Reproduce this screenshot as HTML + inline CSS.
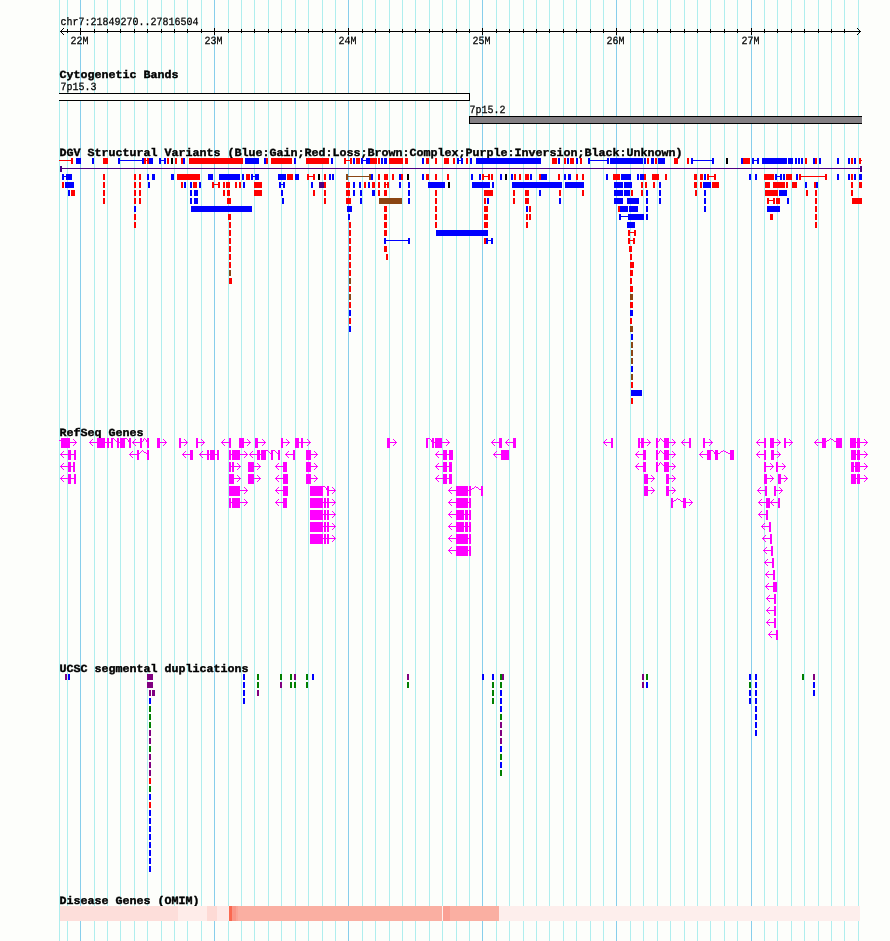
<!DOCTYPE html>
<html><head><meta charset="utf-8"><title>chr7:21849270..27816504</title>
<style>
html,body{margin:0;padding:0;background:#FDFEFB;}
body{width:890px;height:941px;overflow:hidden;}
svg{display:block;}
text{font-family:"Liberation Mono","DejaVu Sans Mono",monospace;fill:#000;white-space:pre;text-rendering:geometricPrecision;stroke:#000;stroke-width:0.2px;}
text.s{font-size:11px;stroke-width:0.25px;}
text.b{font-size:11px;font-weight:bold;stroke-width:0.4px;}
</style></head>
<body>
<svg width="890" height="941" viewBox="0 0 890 941" shape-rendering="crispEdges">
<rect x="0" y="0" width="890" height="941" fill="#FDFEFB"/>
<rect x="67" y="0" width="1" height="941" fill="#AFEEEE"/>
<rect x="80" y="0" width="1" height="941" fill="#87CEEB"/>
<rect x="94" y="0" width="1" height="941" fill="#AFEEEE"/>
<rect x="107" y="0" width="1" height="941" fill="#AFEEEE"/>
<rect x="120" y="0" width="1" height="941" fill="#AFEEEE"/>
<rect x="134" y="0" width="1" height="941" fill="#AFEEEE"/>
<rect x="147" y="0" width="1" height="941" fill="#AFEEEE"/>
<rect x="161" y="0" width="1" height="941" fill="#AFEEEE"/>
<rect x="174" y="0" width="1" height="941" fill="#AFEEEE"/>
<rect x="187" y="0" width="1" height="941" fill="#AFEEEE"/>
<rect x="201" y="0" width="1" height="941" fill="#AFEEEE"/>
<rect x="214" y="0" width="1" height="941" fill="#87CEEB"/>
<rect x="228" y="0" width="1" height="941" fill="#AFEEEE"/>
<rect x="241" y="0" width="1" height="941" fill="#AFEEEE"/>
<rect x="254" y="0" width="1" height="941" fill="#AFEEEE"/>
<rect x="268" y="0" width="1" height="941" fill="#AFEEEE"/>
<rect x="281" y="0" width="1" height="941" fill="#AFEEEE"/>
<rect x="295" y="0" width="1" height="941" fill="#AFEEEE"/>
<rect x="308" y="0" width="1" height="941" fill="#AFEEEE"/>
<rect x="322" y="0" width="1" height="941" fill="#AFEEEE"/>
<rect x="335" y="0" width="1" height="941" fill="#AFEEEE"/>
<rect x="348" y="0" width="1" height="941" fill="#87CEEB"/>
<rect x="362" y="0" width="1" height="941" fill="#AFEEEE"/>
<rect x="375" y="0" width="1" height="941" fill="#AFEEEE"/>
<rect x="389" y="0" width="1" height="941" fill="#AFEEEE"/>
<rect x="402" y="0" width="1" height="941" fill="#AFEEEE"/>
<rect x="415" y="0" width="1" height="941" fill="#AFEEEE"/>
<rect x="429" y="0" width="1" height="941" fill="#AFEEEE"/>
<rect x="442" y="0" width="1" height="941" fill="#AFEEEE"/>
<rect x="456" y="0" width="1" height="941" fill="#AFEEEE"/>
<rect x="469" y="0" width="1" height="941" fill="#AFEEEE"/>
<rect x="482" y="0" width="1" height="941" fill="#87CEEB"/>
<rect x="496" y="0" width="1" height="941" fill="#AFEEEE"/>
<rect x="509" y="0" width="1" height="941" fill="#AFEEEE"/>
<rect x="523" y="0" width="1" height="941" fill="#AFEEEE"/>
<rect x="536" y="0" width="1" height="941" fill="#AFEEEE"/>
<rect x="549" y="0" width="1" height="941" fill="#AFEEEE"/>
<rect x="563" y="0" width="1" height="941" fill="#AFEEEE"/>
<rect x="576" y="0" width="1" height="941" fill="#AFEEEE"/>
<rect x="590" y="0" width="1" height="941" fill="#AFEEEE"/>
<rect x="603" y="0" width="1" height="941" fill="#AFEEEE"/>
<rect x="616" y="0" width="1" height="941" fill="#87CEEB"/>
<rect x="630" y="0" width="1" height="941" fill="#AFEEEE"/>
<rect x="643" y="0" width="1" height="941" fill="#AFEEEE"/>
<rect x="657" y="0" width="1" height="941" fill="#AFEEEE"/>
<rect x="670" y="0" width="1" height="941" fill="#AFEEEE"/>
<rect x="684" y="0" width="1" height="941" fill="#AFEEEE"/>
<rect x="697" y="0" width="1" height="941" fill="#AFEEEE"/>
<rect x="710" y="0" width="1" height="941" fill="#AFEEEE"/>
<rect x="724" y="0" width="1" height="941" fill="#AFEEEE"/>
<rect x="737" y="0" width="1" height="941" fill="#AFEEEE"/>
<rect x="751" y="0" width="1" height="941" fill="#87CEEB"/>
<rect x="764" y="0" width="1" height="941" fill="#AFEEEE"/>
<rect x="777" y="0" width="1" height="941" fill="#AFEEEE"/>
<rect x="791" y="0" width="1" height="941" fill="#AFEEEE"/>
<rect x="804" y="0" width="1" height="941" fill="#AFEEEE"/>
<rect x="818" y="0" width="1" height="941" fill="#AFEEEE"/>
<rect x="831" y="0" width="1" height="941" fill="#AFEEEE"/>
<rect x="844" y="0" width="1" height="941" fill="#AFEEEE"/>
<rect x="858" y="0" width="1" height="941" fill="#AFEEEE"/>
<rect x="59" y="0" width="1" height="941" fill="#AFEEEE"/>
<text x="60.4" y="25" class="s" textLength="138" lengthAdjust="spacingAndGlyphs">chr7:21849270..27816504</text>
<rect x="60" y="31" width="801" height="1" fill="#000"/>
<rect x="67" y="29" width="1" height="4" fill="#000"/>
<rect x="80" y="28" width="1" height="7" fill="#000"/>
<text x="70.4" y="44" class="s" textLength="18" lengthAdjust="spacingAndGlyphs">22M</text>
<rect x="94" y="29" width="1" height="4" fill="#000"/>
<rect x="107" y="29" width="1" height="4" fill="#000"/>
<rect x="120" y="29" width="1" height="4" fill="#000"/>
<rect x="134" y="29" width="1" height="4" fill="#000"/>
<rect x="147" y="29" width="1" height="4" fill="#000"/>
<rect x="161" y="29" width="1" height="4" fill="#000"/>
<rect x="174" y="29" width="1" height="4" fill="#000"/>
<rect x="187" y="29" width="1" height="4" fill="#000"/>
<rect x="201" y="29" width="1" height="4" fill="#000"/>
<rect x="214" y="28" width="1" height="7" fill="#000"/>
<text x="204.4" y="44" class="s" textLength="18" lengthAdjust="spacingAndGlyphs">23M</text>
<rect x="228" y="29" width="1" height="4" fill="#000"/>
<rect x="241" y="29" width="1" height="4" fill="#000"/>
<rect x="254" y="29" width="1" height="4" fill="#000"/>
<rect x="268" y="29" width="1" height="4" fill="#000"/>
<rect x="281" y="29" width="1" height="4" fill="#000"/>
<rect x="295" y="29" width="1" height="4" fill="#000"/>
<rect x="308" y="29" width="1" height="4" fill="#000"/>
<rect x="322" y="29" width="1" height="4" fill="#000"/>
<rect x="335" y="29" width="1" height="4" fill="#000"/>
<rect x="348" y="28" width="1" height="7" fill="#000"/>
<text x="338.4" y="44" class="s" textLength="18" lengthAdjust="spacingAndGlyphs">24M</text>
<rect x="362" y="29" width="1" height="4" fill="#000"/>
<rect x="375" y="29" width="1" height="4" fill="#000"/>
<rect x="389" y="29" width="1" height="4" fill="#000"/>
<rect x="402" y="29" width="1" height="4" fill="#000"/>
<rect x="415" y="29" width="1" height="4" fill="#000"/>
<rect x="429" y="29" width="1" height="4" fill="#000"/>
<rect x="442" y="29" width="1" height="4" fill="#000"/>
<rect x="456" y="29" width="1" height="4" fill="#000"/>
<rect x="469" y="29" width="1" height="4" fill="#000"/>
<rect x="482" y="28" width="1" height="7" fill="#000"/>
<text x="472.4" y="44" class="s" textLength="18" lengthAdjust="spacingAndGlyphs">25M</text>
<rect x="496" y="29" width="1" height="4" fill="#000"/>
<rect x="509" y="29" width="1" height="4" fill="#000"/>
<rect x="523" y="29" width="1" height="4" fill="#000"/>
<rect x="536" y="29" width="1" height="4" fill="#000"/>
<rect x="549" y="29" width="1" height="4" fill="#000"/>
<rect x="563" y="29" width="1" height="4" fill="#000"/>
<rect x="576" y="29" width="1" height="4" fill="#000"/>
<rect x="590" y="29" width="1" height="4" fill="#000"/>
<rect x="603" y="29" width="1" height="4" fill="#000"/>
<rect x="616" y="28" width="1" height="7" fill="#000"/>
<text x="606.4" y="44" class="s" textLength="18" lengthAdjust="spacingAndGlyphs">26M</text>
<rect x="630" y="29" width="1" height="4" fill="#000"/>
<rect x="643" y="29" width="1" height="4" fill="#000"/>
<rect x="657" y="29" width="1" height="4" fill="#000"/>
<rect x="670" y="29" width="1" height="4" fill="#000"/>
<rect x="684" y="29" width="1" height="4" fill="#000"/>
<rect x="697" y="29" width="1" height="4" fill="#000"/>
<rect x="710" y="29" width="1" height="4" fill="#000"/>
<rect x="724" y="29" width="1" height="4" fill="#000"/>
<rect x="737" y="29" width="1" height="4" fill="#000"/>
<rect x="751" y="28" width="1" height="7" fill="#000"/>
<text x="741.4" y="44" class="s" textLength="18" lengthAdjust="spacingAndGlyphs">27M</text>
<rect x="764" y="29" width="1" height="4" fill="#000"/>
<rect x="777" y="29" width="1" height="4" fill="#000"/>
<rect x="791" y="29" width="1" height="4" fill="#000"/>
<rect x="804" y="29" width="1" height="4" fill="#000"/>
<rect x="818" y="29" width="1" height="4" fill="#000"/>
<rect x="831" y="29" width="1" height="4" fill="#000"/>
<rect x="844" y="29" width="1" height="4" fill="#000"/>
<rect x="61" y="30" width="1" height="1" fill="#000"/>
<rect x="61" y="32" width="1" height="1" fill="#000"/>
<rect x="859" y="30" width="1" height="1" fill="#000"/>
<rect x="859" y="32" width="1" height="1" fill="#000"/>
<rect x="62" y="29" width="1" height="1" fill="#000"/>
<rect x="62" y="33" width="1" height="1" fill="#000"/>
<rect x="858" y="29" width="1" height="1" fill="#000"/>
<rect x="858" y="33" width="1" height="1" fill="#000"/>
<rect x="63" y="28" width="1" height="1" fill="#000"/>
<rect x="63" y="34" width="1" height="1" fill="#000"/>
<rect x="857" y="28" width="1" height="1" fill="#000"/>
<rect x="857" y="34" width="1" height="1" fill="#000"/>
<text x="59.5" y="77.7" class="b" textLength="119" lengthAdjust="spacingAndGlyphs">Cytogenetic Bands</text>
<text x="60.4" y="90" class="s" textLength="36" lengthAdjust="spacingAndGlyphs">7p15.3</text>
<rect x="59" y="93" width="411" height="8" fill="#000"/>
<rect x="59" y="94" width="410" height="6" fill="#FDFEFB"/>
<text x="469.4" y="113" class="s" textLength="36" lengthAdjust="spacingAndGlyphs">7p15.2</text>
<rect x="469" y="116" width="393" height="8" fill="#000"/>
<rect x="470" y="117" width="392" height="6" fill="#848084"/>
<text x="59.5" y="155.7" class="b" textLength="623" lengthAdjust="spacingAndGlyphs">DGV Structural Variants (Blue:Gain;Red:Loss;Brown:Complex;Purple:Inversion;Black:Unknown)</text>
<rect x="59" y="160" width="12" height="1" fill="#FF0000"/>
<rect x="71" y="158" width="2" height="6" fill="#FF0000"/>
<rect x="76" y="158" width="5" height="6" fill="#0000FF"/>
<rect x="92" y="158" width="2" height="6" fill="#0000FF"/>
<rect x="103" y="158" width="5" height="6" fill="#FF0000"/>
<rect x="118" y="158" width="2" height="6" fill="#0000FF"/>
<rect x="120" y="160" width="22" height="1" fill="#0000FF"/>
<rect x="142" y="158" width="2" height="6" fill="#0000FF"/>
<rect x="144" y="158" width="2" height="6" fill="#FF0000"/>
<rect x="146" y="160" width="1" height="1" fill="#FF0000"/>
<rect x="147" y="158" width="2" height="6" fill="#FF0000"/>
<rect x="149" y="158" width="4" height="6" fill="#0000FF"/>
<rect x="159" y="158" width="2" height="6" fill="#0000FF"/>
<rect x="161" y="160" width="3" height="1" fill="#0000FF"/>
<rect x="164" y="158" width="2" height="6" fill="#0000FF"/>
<rect x="167" y="158" width="2" height="6" fill="#FF0000"/>
<rect x="171" y="158" width="2" height="6" fill="#000000"/>
<rect x="175" y="158" width="2" height="6" fill="#FF0000"/>
<rect x="181" y="158" width="2" height="6" fill="#FF0000"/>
<rect x="183" y="158" width="2" height="6" fill="#0000FF"/>
<rect x="189" y="158" width="54" height="6" fill="#FF0000"/>
<rect x="245" y="158" width="14" height="6" fill="#0000FF"/>
<rect x="264" y="158" width="2" height="6" fill="#0000FF"/>
<rect x="266" y="158" width="2" height="6" fill="#FF0000"/>
<rect x="271" y="158" width="21" height="6" fill="#FF0000"/>
<rect x="294" y="158" width="2" height="6" fill="#0000FF"/>
<rect x="306" y="158" width="23" height="6" fill="#FF0000"/>
<rect x="331" y="158" width="2" height="6" fill="#0000FF"/>
<rect x="344" y="158" width="2" height="6" fill="#FF0000"/>
<rect x="346" y="160" width="4" height="1" fill="#FF0000"/>
<rect x="350" y="158" width="2" height="6" fill="#FF0000"/>
<rect x="353" y="158" width="2" height="6" fill="#0000FF"/>
<rect x="356" y="158" width="4" height="6" fill="#FF0000"/>
<rect x="361" y="158" width="2" height="6" fill="#0000FF"/>
<rect x="363" y="160" width="3" height="1" fill="#0000FF"/>
<rect x="366" y="158" width="4" height="6" fill="#0000FF"/>
<rect x="370" y="158" width="7" height="6" fill="#FF0000"/>
<rect x="378" y="158" width="2" height="6" fill="#FF0000"/>
<rect x="381" y="158" width="2" height="6" fill="#0000FF"/>
<rect x="384" y="158" width="3" height="6" fill="#0000FF"/>
<rect x="389" y="158" width="14" height="6" fill="#FF0000"/>
<rect x="405" y="158" width="3" height="6" fill="#FF0000"/>
<rect x="422" y="158" width="2" height="6" fill="#0000FF"/>
<rect x="426" y="158" width="3" height="6" fill="#FF0000"/>
<rect x="435" y="158" width="2" height="6" fill="#FF0000"/>
<rect x="444" y="158" width="5" height="6" fill="#FF0000"/>
<rect x="453" y="158" width="2" height="6" fill="#FF0000"/>
<rect x="457" y="158" width="2" height="6" fill="#0000FF"/>
<rect x="459" y="160" width="2" height="1" fill="#0000FF"/>
<rect x="461" y="158" width="2" height="6" fill="#0000FF"/>
<rect x="466" y="158" width="2" height="6" fill="#FF0000"/>
<rect x="470" y="158" width="2" height="6" fill="#0000FF"/>
<rect x="476" y="158" width="65" height="6" fill="#0000FF"/>
<rect x="552" y="158" width="5" height="6" fill="#FF0000"/>
<rect x="558" y="158" width="2" height="6" fill="#0000FF"/>
<rect x="564" y="158" width="2" height="6" fill="#FF0000"/>
<rect x="567" y="158" width="2" height="6" fill="#0000FF"/>
<rect x="570" y="158" width="4" height="6" fill="#FF0000"/>
<rect x="576" y="158" width="2" height="6" fill="#0000FF"/>
<rect x="580" y="158" width="2" height="6" fill="#FF0000"/>
<rect x="588" y="158" width="2" height="6" fill="#0000FF"/>
<rect x="590" y="160" width="17" height="1" fill="#0000FF"/>
<rect x="607" y="158" width="2" height="6" fill="#0000FF"/>
<rect x="610" y="158" width="33" height="6" fill="#0000FF"/>
<rect x="644" y="158" width="2" height="6" fill="#0000FF"/>
<rect x="647" y="158" width="2" height="6" fill="#FF0000"/>
<rect x="651" y="158" width="3" height="6" fill="#0000FF"/>
<rect x="655" y="158" width="2" height="6" fill="#FF0000"/>
<rect x="658" y="158" width="7" height="6" fill="#0000FF"/>
<rect x="674" y="158" width="4" height="6" fill="#FF0000"/>
<rect x="687" y="158" width="2" height="6" fill="#FF0000"/>
<rect x="691" y="158" width="2" height="6" fill="#0000FF"/>
<rect x="693" y="160" width="19" height="1" fill="#0000FF"/>
<rect x="712" y="158" width="2" height="6" fill="#0000FF"/>
<rect x="726" y="158" width="2" height="6" fill="#000000"/>
<rect x="741" y="158" width="2" height="6" fill="#0000FF"/>
<rect x="743" y="158" width="7" height="6" fill="#FF0000"/>
<rect x="752" y="158" width="2" height="6" fill="#0000FF"/>
<rect x="754" y="160" width="3" height="1" fill="#0000FF"/>
<rect x="757" y="158" width="2" height="6" fill="#0000FF"/>
<rect x="762" y="158" width="25" height="6" fill="#0000FF"/>
<rect x="788" y="158" width="5" height="6" fill="#0000FF"/>
<rect x="795" y="158" width="2" height="6" fill="#0000FF"/>
<rect x="798" y="158" width="2" height="6" fill="#0000FF"/>
<rect x="801" y="158" width="2" height="6" fill="#0000FF"/>
<rect x="805" y="158" width="2" height="6" fill="#FF0000"/>
<rect x="813" y="158" width="2" height="6" fill="#0000FF"/>
<rect x="815" y="158" width="2" height="6" fill="#FF0000"/>
<rect x="819" y="158" width="2" height="6" fill="#0000FF"/>
<rect x="837" y="158" width="2" height="6" fill="#0000FF"/>
<rect x="848" y="158" width="2" height="6" fill="#0000FF"/>
<rect x="851" y="158" width="2" height="6" fill="#FF0000"/>
<rect x="854" y="158" width="2" height="6" fill="#0000FF"/>
<rect x="859" y="158" width="2" height="6" fill="#FF0000"/>
<rect x="861" y="160" width="1" height="1" fill="#FF0000"/>
<rect x="60" y="166" width="2" height="6" fill="#4B0082"/>
<rect x="60" y="168" width="802" height="1" fill="#4B0082"/>
<rect x="860" y="166" width="2" height="6" fill="#4B0082"/>
<rect x="62" y="174" width="2" height="6" fill="#0000FF"/>
<rect x="64" y="176" width="2" height="1" fill="#0000FF"/>
<rect x="66" y="174" width="6" height="6" fill="#0000FF"/>
<rect x="103" y="174" width="2" height="6" fill="#FF0000"/>
<rect x="134" y="174" width="2" height="6" fill="#FF0000"/>
<rect x="139" y="174" width="2" height="6" fill="#FF0000"/>
<rect x="147" y="174" width="2" height="6" fill="#0000FF"/>
<rect x="152" y="174" width="3" height="6" fill="#0000FF"/>
<rect x="171" y="174" width="3" height="6" fill="#0000FF"/>
<rect x="177" y="174" width="23" height="6" fill="#FF0000"/>
<rect x="208" y="174" width="5" height="6" fill="#0000FF"/>
<rect x="219" y="174" width="21" height="6" fill="#0000FF"/>
<rect x="242" y="174" width="2" height="6" fill="#0000FF"/>
<rect x="246" y="174" width="4" height="6" fill="#FF0000"/>
<rect x="251" y="174" width="2" height="6" fill="#0000FF"/>
<rect x="253" y="176" width="2" height="1" fill="#0000FF"/>
<rect x="255" y="174" width="4" height="6" fill="#0000FF"/>
<rect x="278" y="174" width="8" height="6" fill="#0000FF"/>
<rect x="287" y="174" width="6" height="6" fill="#FF0000"/>
<rect x="295" y="174" width="4" height="6" fill="#0000FF"/>
<rect x="307" y="174" width="2" height="6" fill="#FF0000"/>
<rect x="309" y="176" width="4" height="1" fill="#FF0000"/>
<rect x="313" y="174" width="2" height="6" fill="#FF0000"/>
<rect x="318" y="174" width="2" height="6" fill="#000000"/>
<rect x="324" y="174" width="2" height="6" fill="#FF0000"/>
<rect x="329" y="174" width="2" height="6" fill="#0000FF"/>
<rect x="332" y="174" width="2" height="6" fill="#0000FF"/>
<rect x="346" y="174" width="2" height="6" fill="#8B4513"/>
<rect x="348" y="176" width="21" height="1" fill="#8B4513"/>
<rect x="369" y="174" width="2" height="6" fill="#8B4513"/>
<rect x="371" y="174" width="2" height="6" fill="#0000FF"/>
<rect x="378" y="174" width="2" height="6" fill="#FF0000"/>
<rect x="384" y="174" width="4" height="6" fill="#FF0000"/>
<rect x="392" y="174" width="2" height="6" fill="#FF0000"/>
<rect x="399" y="174" width="2" height="6" fill="#0000FF"/>
<rect x="401" y="174" width="2" height="6" fill="#FF0000"/>
<rect x="407" y="174" width="2" height="6" fill="#000000"/>
<rect x="422" y="174" width="2" height="6" fill="#0000FF"/>
<rect x="426" y="174" width="3" height="6" fill="#FF0000"/>
<rect x="435" y="174" width="2" height="6" fill="#FF0000"/>
<rect x="447" y="174" width="2" height="6" fill="#FF0000"/>
<rect x="471" y="174" width="2" height="6" fill="#0000FF"/>
<rect x="479" y="174" width="2" height="6" fill="#0000FF"/>
<rect x="482" y="174" width="2" height="6" fill="#FF0000"/>
<rect x="484" y="176" width="4" height="1" fill="#FF0000"/>
<rect x="488" y="174" width="2" height="6" fill="#FF0000"/>
<rect x="491" y="174" width="2" height="6" fill="#FF0000"/>
<rect x="500" y="174" width="2" height="6" fill="#0000FF"/>
<rect x="505" y="174" width="2" height="6" fill="#000000"/>
<rect x="511" y="174" width="2" height="6" fill="#0000FF"/>
<rect x="514" y="174" width="2" height="6" fill="#FF0000"/>
<rect x="519" y="174" width="2" height="6" fill="#FF0000"/>
<rect x="525" y="174" width="4" height="6" fill="#FF0000"/>
<rect x="530" y="174" width="2" height="6" fill="#0000FF"/>
<rect x="539" y="174" width="2" height="6" fill="#FF0000"/>
<rect x="541" y="174" width="6" height="6" fill="#0000FF"/>
<rect x="558" y="174" width="2" height="6" fill="#FF0000"/>
<rect x="564" y="174" width="2" height="6" fill="#0000FF"/>
<rect x="568" y="174" width="3" height="6" fill="#0000FF"/>
<rect x="576" y="174" width="2" height="6" fill="#FF0000"/>
<rect x="582" y="174" width="2" height="6" fill="#FF0000"/>
<rect x="606" y="174" width="2" height="6" fill="#0000FF"/>
<rect x="613" y="174" width="7" height="6" fill="#FF0000"/>
<rect x="621" y="174" width="10" height="6" fill="#0000FF"/>
<rect x="637" y="174" width="2" height="6" fill="#0000FF"/>
<rect x="640" y="174" width="4" height="6" fill="#0000FF"/>
<rect x="644" y="174" width="2" height="6" fill="#FF0000"/>
<rect x="652" y="174" width="7" height="6" fill="#FF0000"/>
<rect x="665" y="174" width="2" height="6" fill="#FF0000"/>
<rect x="694" y="174" width="3" height="6" fill="#FF0000"/>
<rect x="700" y="174" width="3" height="6" fill="#FF0000"/>
<rect x="704" y="174" width="2" height="6" fill="#0000FF"/>
<rect x="707" y="174" width="2" height="6" fill="#FF0000"/>
<rect x="709" y="176" width="5" height="1" fill="#FF0000"/>
<rect x="714" y="174" width="2" height="6" fill="#FF0000"/>
<rect x="749" y="174" width="2" height="6" fill="#0000FF"/>
<rect x="755" y="174" width="2" height="6" fill="#0000FF"/>
<rect x="764" y="174" width="10" height="6" fill="#FF0000"/>
<rect x="775" y="174" width="2" height="6" fill="#0000FF"/>
<rect x="777" y="176" width="3" height="1" fill="#0000FF"/>
<rect x="780" y="174" width="2" height="6" fill="#0000FF"/>
<rect x="783" y="174" width="2" height="6" fill="#0000FF"/>
<rect x="786" y="174" width="6" height="6" fill="#FF0000"/>
<rect x="796" y="174" width="2" height="6" fill="#0000FF"/>
<rect x="799" y="174" width="2" height="6" fill="#FF0000"/>
<rect x="801" y="176" width="24" height="1" fill="#FF0000"/>
<rect x="825" y="174" width="2" height="6" fill="#FF0000"/>
<rect x="837" y="174" width="2" height="6" fill="#0000FF"/>
<rect x="848" y="174" width="2" height="6" fill="#0000FF"/>
<rect x="851" y="174" width="2" height="6" fill="#FF0000"/>
<rect x="854" y="174" width="2" height="6" fill="#0000FF"/>
<rect x="859" y="174" width="3" height="6" fill="#0000FF"/>
<rect x="62" y="182" width="2" height="6" fill="#FF0000"/>
<rect x="65" y="182" width="9" height="6" fill="#0000FF"/>
<rect x="103" y="182" width="2" height="6" fill="#FF0000"/>
<rect x="134" y="182" width="2" height="6" fill="#FF0000"/>
<rect x="139" y="182" width="2" height="6" fill="#FF0000"/>
<rect x="148" y="182" width="2" height="6" fill="#0000FF"/>
<rect x="181" y="182" width="2" height="6" fill="#FF0000"/>
<rect x="184" y="182" width="2" height="6" fill="#0000FF"/>
<rect x="190" y="182" width="2" height="6" fill="#0000FF"/>
<rect x="193" y="182" width="4" height="6" fill="#FF0000"/>
<rect x="199" y="182" width="2" height="6" fill="#0000FF"/>
<rect x="212" y="182" width="2" height="6" fill="#FF0000"/>
<rect x="214" y="184" width="4" height="1" fill="#FF0000"/>
<rect x="218" y="182" width="2" height="6" fill="#FF0000"/>
<rect x="223" y="182" width="2" height="6" fill="#FF0000"/>
<rect x="226" y="182" width="4" height="6" fill="#FF0000"/>
<rect x="235" y="182" width="2" height="6" fill="#FF0000"/>
<rect x="239" y="182" width="2" height="6" fill="#FF0000"/>
<rect x="243" y="182" width="2" height="6" fill="#0000FF"/>
<rect x="254" y="182" width="8" height="6" fill="#FF0000"/>
<rect x="279" y="182" width="2" height="6" fill="#0000FF"/>
<rect x="281" y="184" width="2" height="1" fill="#0000FF"/>
<rect x="283" y="182" width="2" height="6" fill="#0000FF"/>
<rect x="311" y="182" width="2" height="6" fill="#0000FF"/>
<rect x="319" y="182" width="5" height="6" fill="#4B0082"/>
<rect x="324" y="182" width="2" height="6" fill="#FF0000"/>
<rect x="346" y="182" width="4" height="6" fill="#FF0000"/>
<rect x="353" y="182" width="2" height="6" fill="#0000FF"/>
<rect x="359" y="182" width="2" height="6" fill="#0000FF"/>
<rect x="364" y="182" width="2" height="6" fill="#FF0000"/>
<rect x="368" y="182" width="2" height="6" fill="#0000FF"/>
<rect x="372" y="182" width="3" height="6" fill="#FF0000"/>
<rect x="378" y="182" width="2" height="6" fill="#FF0000"/>
<rect x="384" y="182" width="2" height="6" fill="#FF0000"/>
<rect x="386" y="184" width="1" height="1" fill="#FF0000"/>
<rect x="387" y="182" width="2" height="6" fill="#FF0000"/>
<rect x="399" y="182" width="2" height="6" fill="#0000FF"/>
<rect x="408" y="182" width="2" height="6" fill="#0000FF"/>
<rect x="428" y="182" width="17" height="6" fill="#0000FF"/>
<rect x="448" y="182" width="2" height="6" fill="#000000"/>
<rect x="472" y="182" width="18" height="6" fill="#0000FF"/>
<rect x="492" y="182" width="2" height="6" fill="#0000FF"/>
<rect x="512" y="182" width="50" height="6" fill="#0000FF"/>
<rect x="565" y="182" width="19" height="6" fill="#0000FF"/>
<rect x="614" y="182" width="9" height="6" fill="#0000FF"/>
<rect x="624" y="182" width="8" height="6" fill="#0000FF"/>
<rect x="641" y="182" width="2" height="6" fill="#FF0000"/>
<rect x="645" y="182" width="2" height="6" fill="#FF0000"/>
<rect x="653" y="182" width="2" height="6" fill="#FF0000"/>
<rect x="659" y="182" width="2" height="6" fill="#0000FF"/>
<rect x="694" y="182" width="3" height="6" fill="#FF0000"/>
<rect x="700" y="182" width="2" height="6" fill="#FF0000"/>
<rect x="703" y="182" width="8" height="6" fill="#0000FF"/>
<rect x="712" y="182" width="7" height="6" fill="#FF0000"/>
<rect x="765" y="182" width="5" height="6" fill="#FF0000"/>
<rect x="773" y="182" width="12" height="6" fill="#FF0000"/>
<rect x="786" y="182" width="2" height="6" fill="#FF0000"/>
<rect x="792" y="182" width="5" height="6" fill="#FF0000"/>
<rect x="805" y="182" width="2" height="6" fill="#0000FF"/>
<rect x="814" y="182" width="2" height="6" fill="#FF0000"/>
<rect x="816" y="182" width="2" height="6" fill="#0000FF"/>
<rect x="851" y="182" width="2" height="6" fill="#FF0000"/>
<rect x="859" y="182" width="3" height="6" fill="#FF0000"/>
<rect x="68" y="190" width="2" height="6" fill="#0000FF"/>
<rect x="71" y="190" width="4" height="6" fill="#FF0000"/>
<rect x="103" y="190" width="2" height="6" fill="#FF0000"/>
<rect x="134" y="190" width="2" height="6" fill="#FF0000"/>
<rect x="139" y="190" width="2" height="6" fill="#FF0000"/>
<rect x="190" y="190" width="2" height="6" fill="#0000FF"/>
<rect x="194" y="190" width="4" height="6" fill="#0000FF"/>
<rect x="223" y="190" width="2" height="6" fill="#FF0000"/>
<rect x="227" y="190" width="3" height="6" fill="#FF0000"/>
<rect x="254" y="190" width="8" height="6" fill="#FF0000"/>
<rect x="281" y="190" width="2" height="6" fill="#0000FF"/>
<rect x="313" y="190" width="2" height="6" fill="#FF0000"/>
<rect x="324" y="190" width="2" height="6" fill="#FF0000"/>
<rect x="346" y="190" width="4" height="6" fill="#FF0000"/>
<rect x="353" y="190" width="2" height="6" fill="#0000FF"/>
<rect x="360" y="190" width="2" height="6" fill="#0000FF"/>
<rect x="372" y="190" width="3" height="6" fill="#0000FF"/>
<rect x="378" y="190" width="2" height="6" fill="#FF0000"/>
<rect x="384" y="190" width="3" height="6" fill="#FF0000"/>
<rect x="408" y="190" width="2" height="6" fill="#0000FF"/>
<rect x="435" y="190" width="2" height="6" fill="#FF0000"/>
<rect x="484" y="190" width="9" height="6" fill="#FF0000"/>
<rect x="513" y="190" width="2" height="6" fill="#FF0000"/>
<rect x="525" y="190" width="4" height="6" fill="#FF0000"/>
<rect x="539" y="190" width="2" height="6" fill="#0000FF"/>
<rect x="559" y="190" width="2" height="6" fill="#FF0000"/>
<rect x="582" y="190" width="2" height="6" fill="#FF0000"/>
<rect x="614" y="190" width="9" height="6" fill="#0000FF"/>
<rect x="624" y="190" width="6" height="6" fill="#0000FF"/>
<rect x="631" y="190" width="2" height="6" fill="#FF0000"/>
<rect x="641" y="190" width="2" height="6" fill="#FF0000"/>
<rect x="646" y="190" width="2" height="6" fill="#0000FF"/>
<rect x="659" y="190" width="2" height="6" fill="#0000FF"/>
<rect x="695" y="190" width="2" height="6" fill="#FF0000"/>
<rect x="704" y="190" width="2" height="6" fill="#0000FF"/>
<rect x="765" y="190" width="13" height="6" fill="#FF0000"/>
<rect x="779" y="190" width="8" height="6" fill="#0000FF"/>
<rect x="806" y="190" width="2" height="6" fill="#FF0000"/>
<rect x="815" y="190" width="2" height="6" fill="#FF0000"/>
<rect x="851" y="190" width="2" height="6" fill="#FF0000"/>
<rect x="103" y="198" width="2" height="6" fill="#FF0000"/>
<rect x="134" y="198" width="2" height="6" fill="#FF0000"/>
<rect x="139" y="198" width="2" height="6" fill="#FF0000"/>
<rect x="190" y="198" width="2" height="6" fill="#0000FF"/>
<rect x="194" y="198" width="4" height="6" fill="#0000FF"/>
<rect x="227" y="198" width="4" height="6" fill="#FF0000"/>
<rect x="282" y="198" width="2" height="6" fill="#0000FF"/>
<rect x="324" y="198" width="2" height="6" fill="#FF0000"/>
<rect x="346" y="198" width="5" height="6" fill="#FF0000"/>
<rect x="360" y="198" width="2" height="6" fill="#0000FF"/>
<rect x="379" y="198" width="23" height="6" fill="#8B4513"/>
<rect x="408" y="198" width="2" height="6" fill="#0000FF"/>
<rect x="435" y="198" width="2" height="6" fill="#FF0000"/>
<rect x="484" y="198" width="2" height="6" fill="#FF0000"/>
<rect x="487" y="198" width="2" height="6" fill="#0000FF"/>
<rect x="513" y="198" width="2" height="6" fill="#FF0000"/>
<rect x="525" y="198" width="4" height="6" fill="#FF0000"/>
<rect x="559" y="198" width="2" height="6" fill="#0000FF"/>
<rect x="614" y="198" width="9" height="6" fill="#0000FF"/>
<rect x="627" y="198" width="12" height="6" fill="#0000FF"/>
<rect x="646" y="198" width="2" height="6" fill="#0000FF"/>
<rect x="659" y="198" width="2" height="6" fill="#0000FF"/>
<rect x="704" y="198" width="2" height="6" fill="#0000FF"/>
<rect x="767" y="198" width="2" height="6" fill="#FF0000"/>
<rect x="769" y="200" width="4" height="1" fill="#FF0000"/>
<rect x="773" y="198" width="2" height="6" fill="#FF0000"/>
<rect x="776" y="198" width="4" height="6" fill="#FF0000"/>
<rect x="787" y="198" width="2" height="6" fill="#0000FF"/>
<rect x="815" y="198" width="2" height="6" fill="#FF0000"/>
<rect x="852" y="198" width="10" height="6" fill="#FF0000"/>
<rect x="134" y="206" width="2" height="6" fill="#0000FF"/>
<rect x="191" y="206" width="61" height="6" fill="#0000FF"/>
<rect x="347" y="206" width="5" height="6" fill="#0000FF"/>
<rect x="384" y="206" width="3" height="6" fill="#FF0000"/>
<rect x="435" y="206" width="2" height="6" fill="#FF0000"/>
<rect x="484" y="206" width="4" height="6" fill="#FF0000"/>
<rect x="526" y="206" width="2" height="6" fill="#0000FF"/>
<rect x="529" y="206" width="2" height="6" fill="#FF0000"/>
<rect x="618" y="206" width="2" height="6" fill="#FF0000"/>
<rect x="620" y="206" width="8" height="6" fill="#0000FF"/>
<rect x="629" y="206" width="9" height="6" fill="#0000FF"/>
<rect x="646" y="206" width="2" height="6" fill="#0000FF"/>
<rect x="704" y="206" width="2" height="6" fill="#0000FF"/>
<rect x="767" y="206" width="13" height="6" fill="#0000FF"/>
<rect x="815" y="206" width="2" height="6" fill="#FF0000"/>
<rect x="134" y="214" width="2" height="6" fill="#FF0000"/>
<rect x="228" y="214" width="3" height="6" fill="#FF0000"/>
<rect x="348" y="214" width="2" height="6" fill="#0000FF"/>
<rect x="384" y="214" width="3" height="6" fill="#FF0000"/>
<rect x="435" y="214" width="2" height="6" fill="#FF0000"/>
<rect x="484" y="214" width="4" height="6" fill="#FF0000"/>
<rect x="526" y="214" width="2" height="6" fill="#FF0000"/>
<rect x="529" y="214" width="2" height="6" fill="#FF0000"/>
<rect x="619" y="214" width="2" height="6" fill="#0000FF"/>
<rect x="621" y="216" width="7" height="1" fill="#0000FF"/>
<rect x="628" y="214" width="16" height="6" fill="#0000FF"/>
<rect x="646" y="214" width="2" height="6" fill="#0000FF"/>
<rect x="770" y="214" width="3" height="6" fill="#FF0000"/>
<rect x="815" y="214" width="2" height="6" fill="#FF0000"/>
<rect x="134" y="222" width="2" height="6" fill="#FF0000"/>
<rect x="229" y="222" width="2" height="6" fill="#FF0000"/>
<rect x="349" y="222" width="2" height="6" fill="#FF0000"/>
<rect x="384" y="222" width="3" height="6" fill="#FF0000"/>
<rect x="435" y="222" width="2" height="6" fill="#FF0000"/>
<rect x="484" y="222" width="4" height="6" fill="#FF0000"/>
<rect x="526" y="222" width="2" height="6" fill="#FF0000"/>
<rect x="627" y="222" width="8" height="6" fill="#0000FF"/>
<rect x="815" y="222" width="2" height="6" fill="#FF0000"/>
<rect x="229" y="230" width="2" height="6" fill="#FF0000"/>
<rect x="349" y="230" width="2" height="6" fill="#FF0000"/>
<rect x="384" y="230" width="3" height="6" fill="#FF0000"/>
<rect x="436" y="230" width="52" height="6" fill="#0000FF"/>
<rect x="628" y="230" width="2" height="6" fill="#FF0000"/>
<rect x="630" y="232" width="4" height="1" fill="#FF0000"/>
<rect x="634" y="230" width="2" height="6" fill="#FF0000"/>
<rect x="229" y="238" width="2" height="6" fill="#FF0000"/>
<rect x="349" y="238" width="2" height="6" fill="#FF0000"/>
<rect x="384" y="238" width="2" height="6" fill="#0000FF"/>
<rect x="386" y="240" width="22" height="1" fill="#0000FF"/>
<rect x="408" y="238" width="2" height="6" fill="#0000FF"/>
<rect x="484" y="238" width="2" height="6" fill="#FF0000"/>
<rect x="486" y="238" width="2" height="6" fill="#0000FF"/>
<rect x="488" y="240" width="3" height="1" fill="#0000FF"/>
<rect x="491" y="238" width="2" height="6" fill="#0000FF"/>
<rect x="628" y="238" width="2" height="6" fill="#FF0000"/>
<rect x="630" y="240" width="3" height="1" fill="#FF0000"/>
<rect x="633" y="238" width="2" height="6" fill="#FF0000"/>
<rect x="229" y="246" width="2" height="6" fill="#FF0000"/>
<rect x="349" y="246" width="2" height="6" fill="#FF0000"/>
<rect x="384" y="246" width="3" height="6" fill="#FF0000"/>
<rect x="629" y="246" width="3" height="6" fill="#FF0000"/>
<rect x="229" y="254" width="2" height="6" fill="#FF0000"/>
<rect x="349" y="254" width="2" height="6" fill="#FF0000"/>
<rect x="386" y="254" width="2" height="6" fill="#FF0000"/>
<rect x="630" y="254" width="2" height="6" fill="#FF0000"/>
<rect x="229" y="262" width="2" height="6" fill="#FF0000"/>
<rect x="349" y="262" width="2" height="6" fill="#FF0000"/>
<rect x="630" y="262" width="4" height="6" fill="#FF0000"/>
<rect x="229" y="270" width="2" height="6" fill="#8B4513"/>
<rect x="349" y="270" width="2" height="6" fill="#FF0000"/>
<rect x="630" y="270" width="3" height="6" fill="#FF0000"/>
<rect x="229" y="278" width="3" height="6" fill="#FF0000"/>
<rect x="349" y="278" width="2" height="6" fill="#8B4513"/>
<rect x="630" y="278" width="2" height="6" fill="#FF0000"/>
<rect x="349" y="286" width="2" height="6" fill="#FF0000"/>
<rect x="630" y="286" width="3" height="6" fill="#FF0000"/>
<rect x="349" y="294" width="2" height="6" fill="#8B4513"/>
<rect x="630" y="294" width="3" height="6" fill="#8B4513"/>
<rect x="349" y="302" width="2" height="6" fill="#FF0000"/>
<rect x="630" y="302" width="3" height="6" fill="#FF0000"/>
<rect x="349" y="310" width="2" height="6" fill="#0000FF"/>
<rect x="630" y="310" width="3" height="6" fill="#0000FF"/>
<rect x="349" y="318" width="2" height="6" fill="#FF0000"/>
<rect x="630" y="318" width="2" height="6" fill="#FF0000"/>
<rect x="349" y="326" width="2" height="6" fill="#0000FF"/>
<rect x="630" y="326" width="3" height="6" fill="#8B4513"/>
<rect x="631" y="334" width="2" height="6" fill="#0000FF"/>
<rect x="631" y="342" width="2" height="6" fill="#8B4513"/>
<rect x="631" y="350" width="2" height="6" fill="#8B4513"/>
<rect x="631" y="358" width="2" height="6" fill="#8B4513"/>
<rect x="631" y="366" width="2" height="6" fill="#0000FF"/>
<rect x="631" y="374" width="2" height="6" fill="#8B4513"/>
<rect x="631" y="382" width="2" height="6" fill="#FF0000"/>
<rect x="631" y="390" width="11" height="6" fill="#0000FF"/>
<rect x="631" y="398" width="2" height="6" fill="#FF0000"/>
<text x="59.5" y="435.7" class="b" textLength="84" lengthAdjust="spacingAndGlyphs">RefSeq Genes</text>
<rect x="61" y="438" width="9" height="10" fill="#FF00FF"/>
<rect x="70" y="442" width="7" height="1" fill="#FF00FF"/>
<rect x="75" y="441" width="1" height="1" fill="#FF00FF"/>
<rect x="75" y="443" width="1" height="1" fill="#FF00FF"/>
<rect x="74" y="440" width="1" height="1" fill="#FF00FF"/>
<rect x="74" y="444" width="1" height="1" fill="#FF00FF"/>
<rect x="73" y="439" width="1" height="1" fill="#FF00FF"/>
<rect x="73" y="445" width="1" height="1" fill="#FF00FF"/>
<rect x="89" y="442" width="8" height="1" fill="#FF00FF"/>
<rect x="90" y="441" width="1" height="1" fill="#FF00FF"/>
<rect x="90" y="443" width="1" height="1" fill="#FF00FF"/>
<rect x="91" y="440" width="1" height="1" fill="#FF00FF"/>
<rect x="91" y="444" width="1" height="1" fill="#FF00FF"/>
<rect x="92" y="439" width="1" height="1" fill="#FF00FF"/>
<rect x="92" y="445" width="1" height="1" fill="#FF00FF"/>
<rect x="97" y="438" width="8" height="10" fill="#FF00FF"/>
<rect x="105" y="442" width="2" height="1" fill="#FF00FF"/>
<rect x="107" y="438" width="2" height="10" fill="#FF00FF"/>
<rect x="109" y="442" width="2" height="1" fill="#FF00FF"/>
<rect x="111" y="438" width="2" height="10" fill="#FF00FF"/>
<rect x="113" y="438" width="1" height="1" fill="#FF00FF"/>
<rect x="113" y="438" width="1" height="1" fill="#FF00FF"/>
<rect x="114" y="439" width="1" height="1" fill="#FF00FF"/>
<rect x="115" y="440" width="1" height="1" fill="#FF00FF"/>
<rect x="116" y="441" width="1" height="1" fill="#FF00FF"/>
<rect x="117" y="442" width="1" height="1" fill="#FF00FF"/>
<rect x="117" y="438" width="2" height="10" fill="#FF00FF"/>
<rect x="119" y="442" width="1" height="1" fill="#FF00FF"/>
<rect x="120" y="438" width="5" height="10" fill="#FF00FF"/>
<rect x="125" y="438" width="2" height="1" fill="#FF00FF"/>
<rect x="126" y="438" width="1" height="1" fill="#FF00FF"/>
<rect x="127" y="439" width="1" height="1" fill="#FF00FF"/>
<rect x="128" y="440" width="1" height="1" fill="#FF00FF"/>
<rect x="128" y="441" width="1" height="1" fill="#FF00FF"/>
<rect x="129" y="442" width="1" height="1" fill="#FF00FF"/>
<rect x="129" y="438" width="2" height="10" fill="#FF00FF"/>
<rect x="132" y="442" width="8" height="1" fill="#FF00FF"/>
<rect x="133" y="441" width="1" height="1" fill="#FF00FF"/>
<rect x="133" y="443" width="1" height="1" fill="#FF00FF"/>
<rect x="134" y="440" width="1" height="1" fill="#FF00FF"/>
<rect x="134" y="444" width="1" height="1" fill="#FF00FF"/>
<rect x="135" y="439" width="1" height="1" fill="#FF00FF"/>
<rect x="135" y="445" width="1" height="1" fill="#FF00FF"/>
<rect x="140" y="438" width="2" height="10" fill="#FF00FF"/>
<rect x="141" y="442" width="1" height="1" fill="#FF00FF"/>
<rect x="142" y="441" width="1" height="1" fill="#FF00FF"/>
<rect x="143" y="440" width="1" height="1" fill="#FF00FF"/>
<rect x="143" y="439" width="1" height="1" fill="#FF00FF"/>
<rect x="144" y="438" width="1" height="1" fill="#FF00FF"/>
<rect x="144" y="438" width="1" height="1" fill="#FF00FF"/>
<rect x="145" y="439" width="1" height="1" fill="#FF00FF"/>
<rect x="146" y="440" width="1" height="1" fill="#FF00FF"/>
<rect x="146" y="441" width="1" height="1" fill="#FF00FF"/>
<rect x="147" y="442" width="1" height="1" fill="#FF00FF"/>
<rect x="147" y="438" width="2" height="10" fill="#FF00FF"/>
<rect x="157" y="438" width="3" height="10" fill="#FF00FF"/>
<rect x="160" y="442" width="7" height="1" fill="#FF00FF"/>
<rect x="165" y="441" width="1" height="1" fill="#FF00FF"/>
<rect x="165" y="443" width="1" height="1" fill="#FF00FF"/>
<rect x="164" y="440" width="1" height="1" fill="#FF00FF"/>
<rect x="164" y="444" width="1" height="1" fill="#FF00FF"/>
<rect x="163" y="439" width="1" height="1" fill="#FF00FF"/>
<rect x="163" y="445" width="1" height="1" fill="#FF00FF"/>
<rect x="179" y="438" width="2" height="10" fill="#FF00FF"/>
<rect x="181" y="442" width="7" height="1" fill="#FF00FF"/>
<rect x="186" y="441" width="1" height="1" fill="#FF00FF"/>
<rect x="186" y="443" width="1" height="1" fill="#FF00FF"/>
<rect x="185" y="440" width="1" height="1" fill="#FF00FF"/>
<rect x="185" y="444" width="1" height="1" fill="#FF00FF"/>
<rect x="184" y="439" width="1" height="1" fill="#FF00FF"/>
<rect x="184" y="445" width="1" height="1" fill="#FF00FF"/>
<rect x="196" y="438" width="2" height="10" fill="#FF00FF"/>
<rect x="198" y="442" width="7" height="1" fill="#FF00FF"/>
<rect x="203" y="441" width="1" height="1" fill="#FF00FF"/>
<rect x="203" y="443" width="1" height="1" fill="#FF00FF"/>
<rect x="202" y="440" width="1" height="1" fill="#FF00FF"/>
<rect x="202" y="444" width="1" height="1" fill="#FF00FF"/>
<rect x="201" y="439" width="1" height="1" fill="#FF00FF"/>
<rect x="201" y="445" width="1" height="1" fill="#FF00FF"/>
<rect x="221" y="442" width="8" height="1" fill="#FF00FF"/>
<rect x="222" y="441" width="1" height="1" fill="#FF00FF"/>
<rect x="222" y="443" width="1" height="1" fill="#FF00FF"/>
<rect x="223" y="440" width="1" height="1" fill="#FF00FF"/>
<rect x="223" y="444" width="1" height="1" fill="#FF00FF"/>
<rect x="224" y="439" width="1" height="1" fill="#FF00FF"/>
<rect x="224" y="445" width="1" height="1" fill="#FF00FF"/>
<rect x="229" y="438" width="2" height="10" fill="#FF00FF"/>
<rect x="239" y="438" width="5" height="10" fill="#FF00FF"/>
<rect x="244" y="442" width="7" height="1" fill="#FF00FF"/>
<rect x="249" y="441" width="1" height="1" fill="#FF00FF"/>
<rect x="249" y="443" width="1" height="1" fill="#FF00FF"/>
<rect x="248" y="440" width="1" height="1" fill="#FF00FF"/>
<rect x="248" y="444" width="1" height="1" fill="#FF00FF"/>
<rect x="247" y="439" width="1" height="1" fill="#FF00FF"/>
<rect x="247" y="445" width="1" height="1" fill="#FF00FF"/>
<rect x="255" y="438" width="3" height="10" fill="#FF00FF"/>
<rect x="258" y="442" width="8" height="1" fill="#FF00FF"/>
<rect x="264" y="441" width="1" height="1" fill="#FF00FF"/>
<rect x="264" y="443" width="1" height="1" fill="#FF00FF"/>
<rect x="263" y="440" width="1" height="1" fill="#FF00FF"/>
<rect x="263" y="444" width="1" height="1" fill="#FF00FF"/>
<rect x="262" y="439" width="1" height="1" fill="#FF00FF"/>
<rect x="262" y="445" width="1" height="1" fill="#FF00FF"/>
<rect x="281" y="438" width="2" height="10" fill="#FF00FF"/>
<rect x="283" y="442" width="7" height="1" fill="#FF00FF"/>
<rect x="288" y="441" width="1" height="1" fill="#FF00FF"/>
<rect x="288" y="443" width="1" height="1" fill="#FF00FF"/>
<rect x="287" y="440" width="1" height="1" fill="#FF00FF"/>
<rect x="287" y="444" width="1" height="1" fill="#FF00FF"/>
<rect x="286" y="439" width="1" height="1" fill="#FF00FF"/>
<rect x="286" y="445" width="1" height="1" fill="#FF00FF"/>
<rect x="295" y="438" width="4" height="10" fill="#FF00FF"/>
<rect x="299" y="442" width="2" height="1" fill="#FF00FF"/>
<rect x="301" y="438" width="2" height="10" fill="#FF00FF"/>
<rect x="303" y="442" width="8" height="1" fill="#FF00FF"/>
<rect x="309" y="441" width="1" height="1" fill="#FF00FF"/>
<rect x="309" y="443" width="1" height="1" fill="#FF00FF"/>
<rect x="308" y="440" width="1" height="1" fill="#FF00FF"/>
<rect x="308" y="444" width="1" height="1" fill="#FF00FF"/>
<rect x="307" y="439" width="1" height="1" fill="#FF00FF"/>
<rect x="307" y="445" width="1" height="1" fill="#FF00FF"/>
<rect x="387" y="438" width="3" height="10" fill="#FF00FF"/>
<rect x="390" y="442" width="7" height="1" fill="#FF00FF"/>
<rect x="395" y="441" width="1" height="1" fill="#FF00FF"/>
<rect x="395" y="443" width="1" height="1" fill="#FF00FF"/>
<rect x="394" y="440" width="1" height="1" fill="#FF00FF"/>
<rect x="394" y="444" width="1" height="1" fill="#FF00FF"/>
<rect x="393" y="439" width="1" height="1" fill="#FF00FF"/>
<rect x="393" y="445" width="1" height="1" fill="#FF00FF"/>
<rect x="426" y="438" width="2" height="10" fill="#FF00FF"/>
<rect x="428" y="438" width="2" height="1" fill="#FF00FF"/>
<rect x="429" y="438" width="1" height="1" fill="#FF00FF"/>
<rect x="430" y="439" width="1" height="1" fill="#FF00FF"/>
<rect x="431" y="440" width="1" height="1" fill="#FF00FF"/>
<rect x="431" y="441" width="1" height="1" fill="#FF00FF"/>
<rect x="432" y="442" width="1" height="1" fill="#FF00FF"/>
<rect x="432" y="438" width="2" height="10" fill="#FF00FF"/>
<rect x="434" y="442" width="1" height="1" fill="#FF00FF"/>
<rect x="435" y="438" width="7" height="10" fill="#FF00FF"/>
<rect x="442" y="442" width="8" height="1" fill="#FF00FF"/>
<rect x="448" y="441" width="1" height="1" fill="#FF00FF"/>
<rect x="448" y="443" width="1" height="1" fill="#FF00FF"/>
<rect x="447" y="440" width="1" height="1" fill="#FF00FF"/>
<rect x="447" y="444" width="1" height="1" fill="#FF00FF"/>
<rect x="446" y="439" width="1" height="1" fill="#FF00FF"/>
<rect x="446" y="445" width="1" height="1" fill="#FF00FF"/>
<rect x="491" y="442" width="8" height="1" fill="#FF00FF"/>
<rect x="492" y="441" width="1" height="1" fill="#FF00FF"/>
<rect x="492" y="443" width="1" height="1" fill="#FF00FF"/>
<rect x="493" y="440" width="1" height="1" fill="#FF00FF"/>
<rect x="493" y="444" width="1" height="1" fill="#FF00FF"/>
<rect x="494" y="439" width="1" height="1" fill="#FF00FF"/>
<rect x="494" y="445" width="1" height="1" fill="#FF00FF"/>
<rect x="499" y="438" width="3" height="10" fill="#FF00FF"/>
<rect x="505" y="442" width="8" height="1" fill="#FF00FF"/>
<rect x="506" y="441" width="1" height="1" fill="#FF00FF"/>
<rect x="506" y="443" width="1" height="1" fill="#FF00FF"/>
<rect x="507" y="440" width="1" height="1" fill="#FF00FF"/>
<rect x="507" y="444" width="1" height="1" fill="#FF00FF"/>
<rect x="508" y="439" width="1" height="1" fill="#FF00FF"/>
<rect x="508" y="445" width="1" height="1" fill="#FF00FF"/>
<rect x="513" y="438" width="3" height="10" fill="#FF00FF"/>
<rect x="603" y="442" width="8" height="1" fill="#FF00FF"/>
<rect x="604" y="441" width="1" height="1" fill="#FF00FF"/>
<rect x="604" y="443" width="1" height="1" fill="#FF00FF"/>
<rect x="605" y="440" width="1" height="1" fill="#FF00FF"/>
<rect x="605" y="444" width="1" height="1" fill="#FF00FF"/>
<rect x="606" y="439" width="1" height="1" fill="#FF00FF"/>
<rect x="606" y="445" width="1" height="1" fill="#FF00FF"/>
<rect x="611" y="438" width="2" height="10" fill="#FF00FF"/>
<rect x="638" y="438" width="2" height="10" fill="#FF00FF"/>
<rect x="640" y="442" width="1" height="1" fill="#FF00FF"/>
<rect x="641" y="438" width="3" height="10" fill="#FF00FF"/>
<rect x="644" y="442" width="7" height="1" fill="#FF00FF"/>
<rect x="649" y="441" width="1" height="1" fill="#FF00FF"/>
<rect x="649" y="443" width="1" height="1" fill="#FF00FF"/>
<rect x="648" y="440" width="1" height="1" fill="#FF00FF"/>
<rect x="648" y="444" width="1" height="1" fill="#FF00FF"/>
<rect x="647" y="439" width="1" height="1" fill="#FF00FF"/>
<rect x="647" y="445" width="1" height="1" fill="#FF00FF"/>
<rect x="656" y="438" width="2" height="10" fill="#FF00FF"/>
<rect x="657" y="442" width="1" height="1" fill="#FF00FF"/>
<rect x="658" y="441" width="1" height="1" fill="#FF00FF"/>
<rect x="659" y="440" width="1" height="1" fill="#FF00FF"/>
<rect x="659" y="439" width="1" height="1" fill="#FF00FF"/>
<rect x="660" y="438" width="1" height="1" fill="#FF00FF"/>
<rect x="660" y="438" width="1" height="1" fill="#FF00FF"/>
<rect x="661" y="439" width="1" height="1" fill="#FF00FF"/>
<rect x="662" y="440" width="1" height="1" fill="#FF00FF"/>
<rect x="663" y="441" width="1" height="1" fill="#FF00FF"/>
<rect x="664" y="442" width="1" height="1" fill="#FF00FF"/>
<rect x="664" y="438" width="5" height="10" fill="#FF00FF"/>
<rect x="669" y="442" width="7" height="1" fill="#FF00FF"/>
<rect x="674" y="441" width="1" height="1" fill="#FF00FF"/>
<rect x="674" y="443" width="1" height="1" fill="#FF00FF"/>
<rect x="673" y="440" width="1" height="1" fill="#FF00FF"/>
<rect x="673" y="444" width="1" height="1" fill="#FF00FF"/>
<rect x="672" y="439" width="1" height="1" fill="#FF00FF"/>
<rect x="672" y="445" width="1" height="1" fill="#FF00FF"/>
<rect x="681" y="442" width="8" height="1" fill="#FF00FF"/>
<rect x="682" y="441" width="1" height="1" fill="#FF00FF"/>
<rect x="682" y="443" width="1" height="1" fill="#FF00FF"/>
<rect x="683" y="440" width="1" height="1" fill="#FF00FF"/>
<rect x="683" y="444" width="1" height="1" fill="#FF00FF"/>
<rect x="684" y="439" width="1" height="1" fill="#FF00FF"/>
<rect x="684" y="445" width="1" height="1" fill="#FF00FF"/>
<rect x="689" y="438" width="2" height="10" fill="#FF00FF"/>
<rect x="703" y="438" width="2" height="10" fill="#FF00FF"/>
<rect x="705" y="442" width="8" height="1" fill="#FF00FF"/>
<rect x="711" y="441" width="1" height="1" fill="#FF00FF"/>
<rect x="711" y="443" width="1" height="1" fill="#FF00FF"/>
<rect x="710" y="440" width="1" height="1" fill="#FF00FF"/>
<rect x="710" y="444" width="1" height="1" fill="#FF00FF"/>
<rect x="709" y="439" width="1" height="1" fill="#FF00FF"/>
<rect x="709" y="445" width="1" height="1" fill="#FF00FF"/>
<rect x="756" y="442" width="8" height="1" fill="#FF00FF"/>
<rect x="757" y="441" width="1" height="1" fill="#FF00FF"/>
<rect x="757" y="443" width="1" height="1" fill="#FF00FF"/>
<rect x="758" y="440" width="1" height="1" fill="#FF00FF"/>
<rect x="758" y="444" width="1" height="1" fill="#FF00FF"/>
<rect x="759" y="439" width="1" height="1" fill="#FF00FF"/>
<rect x="759" y="445" width="1" height="1" fill="#FF00FF"/>
<rect x="764" y="438" width="2" height="10" fill="#FF00FF"/>
<rect x="770" y="438" width="4" height="10" fill="#FF00FF"/>
<rect x="774" y="442" width="7" height="1" fill="#FF00FF"/>
<rect x="779" y="441" width="1" height="1" fill="#FF00FF"/>
<rect x="779" y="443" width="1" height="1" fill="#FF00FF"/>
<rect x="778" y="440" width="1" height="1" fill="#FF00FF"/>
<rect x="778" y="444" width="1" height="1" fill="#FF00FF"/>
<rect x="777" y="439" width="1" height="1" fill="#FF00FF"/>
<rect x="777" y="445" width="1" height="1" fill="#FF00FF"/>
<rect x="784" y="438" width="2" height="10" fill="#FF00FF"/>
<rect x="786" y="442" width="7" height="1" fill="#FF00FF"/>
<rect x="791" y="441" width="1" height="1" fill="#FF00FF"/>
<rect x="791" y="443" width="1" height="1" fill="#FF00FF"/>
<rect x="790" y="440" width="1" height="1" fill="#FF00FF"/>
<rect x="790" y="444" width="1" height="1" fill="#FF00FF"/>
<rect x="789" y="439" width="1" height="1" fill="#FF00FF"/>
<rect x="789" y="445" width="1" height="1" fill="#FF00FF"/>
<rect x="814" y="442" width="8" height="1" fill="#FF00FF"/>
<rect x="815" y="441" width="1" height="1" fill="#FF00FF"/>
<rect x="815" y="443" width="1" height="1" fill="#FF00FF"/>
<rect x="816" y="440" width="1" height="1" fill="#FF00FF"/>
<rect x="816" y="444" width="1" height="1" fill="#FF00FF"/>
<rect x="817" y="439" width="1" height="1" fill="#FF00FF"/>
<rect x="817" y="445" width="1" height="1" fill="#FF00FF"/>
<rect x="822" y="438" width="4" height="10" fill="#FF00FF"/>
<rect x="825" y="442" width="1" height="1" fill="#FF00FF"/>
<rect x="826" y="441" width="1" height="1" fill="#FF00FF"/>
<rect x="827" y="440" width="1" height="1" fill="#FF00FF"/>
<rect x="828" y="440" width="1" height="1" fill="#FF00FF"/>
<rect x="829" y="439" width="1" height="1" fill="#FF00FF"/>
<rect x="830" y="438" width="1" height="1" fill="#FF00FF"/>
<rect x="830" y="438" width="1" height="1" fill="#FF00FF"/>
<rect x="831" y="439" width="1" height="1" fill="#FF00FF"/>
<rect x="832" y="439" width="1" height="1" fill="#FF00FF"/>
<rect x="833" y="440" width="1" height="1" fill="#FF00FF"/>
<rect x="834" y="441" width="1" height="1" fill="#FF00FF"/>
<rect x="835" y="441" width="1" height="1" fill="#FF00FF"/>
<rect x="836" y="442" width="1" height="1" fill="#FF00FF"/>
<rect x="836" y="438" width="6" height="10" fill="#FF00FF"/>
<rect x="850" y="438" width="6" height="10" fill="#FF00FF"/>
<rect x="856" y="442" width="1" height="1" fill="#FF00FF"/>
<rect x="857" y="438" width="3" height="10" fill="#FF00FF"/>
<rect x="860" y="442" width="8" height="1" fill="#FF00FF"/>
<rect x="866" y="441" width="1" height="1" fill="#FF00FF"/>
<rect x="866" y="443" width="1" height="1" fill="#FF00FF"/>
<rect x="865" y="440" width="1" height="1" fill="#FF00FF"/>
<rect x="865" y="444" width="1" height="1" fill="#FF00FF"/>
<rect x="864" y="439" width="1" height="1" fill="#FF00FF"/>
<rect x="864" y="445" width="1" height="1" fill="#FF00FF"/>
<rect x="60" y="454" width="8" height="1" fill="#FF00FF"/>
<rect x="61" y="453" width="1" height="1" fill="#FF00FF"/>
<rect x="61" y="455" width="1" height="1" fill="#FF00FF"/>
<rect x="62" y="452" width="1" height="1" fill="#FF00FF"/>
<rect x="62" y="456" width="1" height="1" fill="#FF00FF"/>
<rect x="63" y="451" width="1" height="1" fill="#FF00FF"/>
<rect x="63" y="457" width="1" height="1" fill="#FF00FF"/>
<rect x="68" y="450" width="3" height="10" fill="#FF00FF"/>
<rect x="71" y="454" width="3" height="1" fill="#FF00FF"/>
<rect x="74" y="450" width="2" height="10" fill="#FF00FF"/>
<rect x="129" y="454" width="8" height="1" fill="#FF00FF"/>
<rect x="130" y="453" width="1" height="1" fill="#FF00FF"/>
<rect x="130" y="455" width="1" height="1" fill="#FF00FF"/>
<rect x="131" y="452" width="1" height="1" fill="#FF00FF"/>
<rect x="131" y="456" width="1" height="1" fill="#FF00FF"/>
<rect x="132" y="451" width="1" height="1" fill="#FF00FF"/>
<rect x="132" y="457" width="1" height="1" fill="#FF00FF"/>
<rect x="137" y="450" width="2" height="10" fill="#FF00FF"/>
<rect x="138" y="454" width="1" height="1" fill="#FF00FF"/>
<rect x="139" y="453" width="1" height="1" fill="#FF00FF"/>
<rect x="140" y="452" width="1" height="1" fill="#FF00FF"/>
<rect x="141" y="451" width="1" height="1" fill="#FF00FF"/>
<rect x="142" y="450" width="1" height="1" fill="#FF00FF"/>
<rect x="142" y="450" width="1" height="1" fill="#FF00FF"/>
<rect x="143" y="451" width="1" height="1" fill="#FF00FF"/>
<rect x="144" y="452" width="1" height="1" fill="#FF00FF"/>
<rect x="145" y="452" width="1" height="1" fill="#FF00FF"/>
<rect x="146" y="453" width="1" height="1" fill="#FF00FF"/>
<rect x="147" y="454" width="1" height="1" fill="#FF00FF"/>
<rect x="147" y="450" width="2" height="10" fill="#FF00FF"/>
<rect x="182" y="454" width="8" height="1" fill="#FF00FF"/>
<rect x="183" y="453" width="1" height="1" fill="#FF00FF"/>
<rect x="183" y="455" width="1" height="1" fill="#FF00FF"/>
<rect x="184" y="452" width="1" height="1" fill="#FF00FF"/>
<rect x="184" y="456" width="1" height="1" fill="#FF00FF"/>
<rect x="185" y="451" width="1" height="1" fill="#FF00FF"/>
<rect x="185" y="457" width="1" height="1" fill="#FF00FF"/>
<rect x="190" y="450" width="3" height="10" fill="#FF00FF"/>
<rect x="199" y="454" width="8" height="1" fill="#FF00FF"/>
<rect x="200" y="453" width="1" height="1" fill="#FF00FF"/>
<rect x="200" y="455" width="1" height="1" fill="#FF00FF"/>
<rect x="201" y="452" width="1" height="1" fill="#FF00FF"/>
<rect x="201" y="456" width="1" height="1" fill="#FF00FF"/>
<rect x="202" y="451" width="1" height="1" fill="#FF00FF"/>
<rect x="202" y="457" width="1" height="1" fill="#FF00FF"/>
<rect x="207" y="450" width="2" height="10" fill="#FF00FF"/>
<rect x="209" y="454" width="1" height="1" fill="#FF00FF"/>
<rect x="210" y="450" width="5" height="10" fill="#FF00FF"/>
<rect x="215" y="454" width="2" height="1" fill="#FF00FF"/>
<rect x="217" y="450" width="2" height="10" fill="#FF00FF"/>
<rect x="229" y="450" width="2" height="10" fill="#FF00FF"/>
<rect x="231" y="454" width="1" height="1" fill="#FF00FF"/>
<rect x="232" y="450" width="8" height="10" fill="#FF00FF"/>
<rect x="240" y="454" width="8" height="1" fill="#FF00FF"/>
<rect x="246" y="453" width="1" height="1" fill="#FF00FF"/>
<rect x="246" y="455" width="1" height="1" fill="#FF00FF"/>
<rect x="245" y="452" width="1" height="1" fill="#FF00FF"/>
<rect x="245" y="456" width="1" height="1" fill="#FF00FF"/>
<rect x="244" y="451" width="1" height="1" fill="#FF00FF"/>
<rect x="244" y="457" width="1" height="1" fill="#FF00FF"/>
<rect x="249" y="454" width="8" height="1" fill="#FF00FF"/>
<rect x="250" y="453" width="1" height="1" fill="#FF00FF"/>
<rect x="250" y="455" width="1" height="1" fill="#FF00FF"/>
<rect x="251" y="452" width="1" height="1" fill="#FF00FF"/>
<rect x="251" y="456" width="1" height="1" fill="#FF00FF"/>
<rect x="252" y="451" width="1" height="1" fill="#FF00FF"/>
<rect x="252" y="457" width="1" height="1" fill="#FF00FF"/>
<rect x="257" y="450" width="3" height="10" fill="#FF00FF"/>
<rect x="260" y="454" width="1" height="1" fill="#FF00FF"/>
<rect x="261" y="450" width="5" height="10" fill="#FF00FF"/>
<rect x="266" y="450" width="2" height="1" fill="#FF00FF"/>
<rect x="267" y="450" width="1" height="1" fill="#FF00FF"/>
<rect x="268" y="451" width="1" height="1" fill="#FF00FF"/>
<rect x="269" y="452" width="1" height="1" fill="#FF00FF"/>
<rect x="270" y="453" width="1" height="1" fill="#FF00FF"/>
<rect x="271" y="454" width="1" height="1" fill="#FF00FF"/>
<rect x="271" y="450" width="2" height="10" fill="#FF00FF"/>
<rect x="273" y="450" width="2" height="1" fill="#FF00FF"/>
<rect x="274" y="450" width="1" height="1" fill="#FF00FF"/>
<rect x="275" y="451" width="1" height="1" fill="#FF00FF"/>
<rect x="276" y="452" width="1" height="1" fill="#FF00FF"/>
<rect x="277" y="453" width="1" height="1" fill="#FF00FF"/>
<rect x="278" y="454" width="1" height="1" fill="#FF00FF"/>
<rect x="278" y="450" width="2" height="10" fill="#FF00FF"/>
<rect x="285" y="454" width="8" height="1" fill="#FF00FF"/>
<rect x="286" y="453" width="1" height="1" fill="#FF00FF"/>
<rect x="286" y="455" width="1" height="1" fill="#FF00FF"/>
<rect x="287" y="452" width="1" height="1" fill="#FF00FF"/>
<rect x="287" y="456" width="1" height="1" fill="#FF00FF"/>
<rect x="288" y="451" width="1" height="1" fill="#FF00FF"/>
<rect x="288" y="457" width="1" height="1" fill="#FF00FF"/>
<rect x="293" y="450" width="2" height="10" fill="#FF00FF"/>
<rect x="306" y="450" width="5" height="10" fill="#FF00FF"/>
<rect x="311" y="454" width="7" height="1" fill="#FF00FF"/>
<rect x="316" y="453" width="1" height="1" fill="#FF00FF"/>
<rect x="316" y="455" width="1" height="1" fill="#FF00FF"/>
<rect x="315" y="452" width="1" height="1" fill="#FF00FF"/>
<rect x="315" y="456" width="1" height="1" fill="#FF00FF"/>
<rect x="314" y="451" width="1" height="1" fill="#FF00FF"/>
<rect x="314" y="457" width="1" height="1" fill="#FF00FF"/>
<rect x="435" y="454" width="8" height="1" fill="#FF00FF"/>
<rect x="436" y="453" width="1" height="1" fill="#FF00FF"/>
<rect x="436" y="455" width="1" height="1" fill="#FF00FF"/>
<rect x="437" y="452" width="1" height="1" fill="#FF00FF"/>
<rect x="437" y="456" width="1" height="1" fill="#FF00FF"/>
<rect x="438" y="451" width="1" height="1" fill="#FF00FF"/>
<rect x="438" y="457" width="1" height="1" fill="#FF00FF"/>
<rect x="443" y="450" width="4" height="10" fill="#FF00FF"/>
<rect x="447" y="454" width="2" height="1" fill="#FF00FF"/>
<rect x="449" y="450" width="4" height="10" fill="#FF00FF"/>
<rect x="493" y="454" width="8" height="1" fill="#FF00FF"/>
<rect x="494" y="453" width="1" height="1" fill="#FF00FF"/>
<rect x="494" y="455" width="1" height="1" fill="#FF00FF"/>
<rect x="495" y="452" width="1" height="1" fill="#FF00FF"/>
<rect x="495" y="456" width="1" height="1" fill="#FF00FF"/>
<rect x="496" y="451" width="1" height="1" fill="#FF00FF"/>
<rect x="496" y="457" width="1" height="1" fill="#FF00FF"/>
<rect x="501" y="450" width="8" height="10" fill="#FF00FF"/>
<rect x="635" y="454" width="8" height="1" fill="#FF00FF"/>
<rect x="636" y="453" width="1" height="1" fill="#FF00FF"/>
<rect x="636" y="455" width="1" height="1" fill="#FF00FF"/>
<rect x="637" y="452" width="1" height="1" fill="#FF00FF"/>
<rect x="637" y="456" width="1" height="1" fill="#FF00FF"/>
<rect x="638" y="451" width="1" height="1" fill="#FF00FF"/>
<rect x="638" y="457" width="1" height="1" fill="#FF00FF"/>
<rect x="643" y="450" width="3" height="10" fill="#FF00FF"/>
<rect x="656" y="450" width="2" height="10" fill="#FF00FF"/>
<rect x="657" y="454" width="1" height="1" fill="#FF00FF"/>
<rect x="658" y="453" width="1" height="1" fill="#FF00FF"/>
<rect x="659" y="452" width="1" height="1" fill="#FF00FF"/>
<rect x="659" y="451" width="1" height="1" fill="#FF00FF"/>
<rect x="660" y="450" width="1" height="1" fill="#FF00FF"/>
<rect x="660" y="450" width="1" height="1" fill="#FF00FF"/>
<rect x="661" y="451" width="1" height="1" fill="#FF00FF"/>
<rect x="662" y="452" width="1" height="1" fill="#FF00FF"/>
<rect x="663" y="453" width="1" height="1" fill="#FF00FF"/>
<rect x="664" y="454" width="1" height="1" fill="#FF00FF"/>
<rect x="664" y="450" width="5" height="10" fill="#FF00FF"/>
<rect x="669" y="454" width="7" height="1" fill="#FF00FF"/>
<rect x="674" y="453" width="1" height="1" fill="#FF00FF"/>
<rect x="674" y="455" width="1" height="1" fill="#FF00FF"/>
<rect x="673" y="452" width="1" height="1" fill="#FF00FF"/>
<rect x="673" y="456" width="1" height="1" fill="#FF00FF"/>
<rect x="672" y="451" width="1" height="1" fill="#FF00FF"/>
<rect x="672" y="457" width="1" height="1" fill="#FF00FF"/>
<rect x="699" y="454" width="8" height="1" fill="#FF00FF"/>
<rect x="700" y="453" width="1" height="1" fill="#FF00FF"/>
<rect x="700" y="455" width="1" height="1" fill="#FF00FF"/>
<rect x="701" y="452" width="1" height="1" fill="#FF00FF"/>
<rect x="701" y="456" width="1" height="1" fill="#FF00FF"/>
<rect x="702" y="451" width="1" height="1" fill="#FF00FF"/>
<rect x="702" y="457" width="1" height="1" fill="#FF00FF"/>
<rect x="707" y="450" width="4" height="10" fill="#FF00FF"/>
<rect x="711" y="450" width="2" height="1" fill="#FF00FF"/>
<rect x="712" y="450" width="1" height="1" fill="#FF00FF"/>
<rect x="713" y="451" width="1" height="1" fill="#FF00FF"/>
<rect x="714" y="452" width="1" height="1" fill="#FF00FF"/>
<rect x="714" y="453" width="1" height="1" fill="#FF00FF"/>
<rect x="715" y="454" width="1" height="1" fill="#FF00FF"/>
<rect x="715" y="450" width="3" height="10" fill="#FF00FF"/>
<rect x="717" y="454" width="1" height="1" fill="#FF00FF"/>
<rect x="718" y="453" width="1" height="1" fill="#FF00FF"/>
<rect x="719" y="453" width="1" height="1" fill="#FF00FF"/>
<rect x="720" y="452" width="1" height="1" fill="#FF00FF"/>
<rect x="721" y="451" width="1" height="1" fill="#FF00FF"/>
<rect x="722" y="451" width="1" height="1" fill="#FF00FF"/>
<rect x="723" y="450" width="1" height="1" fill="#FF00FF"/>
<rect x="723" y="450" width="1" height="1" fill="#FF00FF"/>
<rect x="724" y="451" width="1" height="1" fill="#FF00FF"/>
<rect x="725" y="451" width="1" height="1" fill="#FF00FF"/>
<rect x="726" y="452" width="1" height="1" fill="#FF00FF"/>
<rect x="727" y="452" width="1" height="1" fill="#FF00FF"/>
<rect x="728" y="453" width="1" height="1" fill="#FF00FF"/>
<rect x="729" y="453" width="1" height="1" fill="#FF00FF"/>
<rect x="730" y="454" width="1" height="1" fill="#FF00FF"/>
<rect x="730" y="450" width="4" height="10" fill="#FF00FF"/>
<rect x="756" y="454" width="8" height="1" fill="#FF00FF"/>
<rect x="757" y="453" width="1" height="1" fill="#FF00FF"/>
<rect x="757" y="455" width="1" height="1" fill="#FF00FF"/>
<rect x="758" y="452" width="1" height="1" fill="#FF00FF"/>
<rect x="758" y="456" width="1" height="1" fill="#FF00FF"/>
<rect x="759" y="451" width="1" height="1" fill="#FF00FF"/>
<rect x="759" y="457" width="1" height="1" fill="#FF00FF"/>
<rect x="764" y="450" width="2" height="10" fill="#FF00FF"/>
<rect x="771" y="450" width="3" height="10" fill="#FF00FF"/>
<rect x="774" y="454" width="7" height="1" fill="#FF00FF"/>
<rect x="779" y="453" width="1" height="1" fill="#FF00FF"/>
<rect x="779" y="455" width="1" height="1" fill="#FF00FF"/>
<rect x="778" y="452" width="1" height="1" fill="#FF00FF"/>
<rect x="778" y="456" width="1" height="1" fill="#FF00FF"/>
<rect x="777" y="451" width="1" height="1" fill="#FF00FF"/>
<rect x="777" y="457" width="1" height="1" fill="#FF00FF"/>
<rect x="851" y="450" width="5" height="10" fill="#FF00FF"/>
<rect x="856" y="454" width="1" height="1" fill="#FF00FF"/>
<rect x="857" y="450" width="3" height="10" fill="#FF00FF"/>
<rect x="860" y="454" width="8" height="1" fill="#FF00FF"/>
<rect x="866" y="453" width="1" height="1" fill="#FF00FF"/>
<rect x="866" y="455" width="1" height="1" fill="#FF00FF"/>
<rect x="865" y="452" width="1" height="1" fill="#FF00FF"/>
<rect x="865" y="456" width="1" height="1" fill="#FF00FF"/>
<rect x="864" y="451" width="1" height="1" fill="#FF00FF"/>
<rect x="864" y="457" width="1" height="1" fill="#FF00FF"/>
<rect x="60" y="466" width="8" height="1" fill="#FF00FF"/>
<rect x="61" y="465" width="1" height="1" fill="#FF00FF"/>
<rect x="61" y="467" width="1" height="1" fill="#FF00FF"/>
<rect x="62" y="464" width="1" height="1" fill="#FF00FF"/>
<rect x="62" y="468" width="1" height="1" fill="#FF00FF"/>
<rect x="63" y="463" width="1" height="1" fill="#FF00FF"/>
<rect x="63" y="469" width="1" height="1" fill="#FF00FF"/>
<rect x="68" y="462" width="3" height="10" fill="#FF00FF"/>
<rect x="71" y="466" width="2" height="1" fill="#FF00FF"/>
<rect x="73" y="462" width="2" height="10" fill="#FF00FF"/>
<rect x="229" y="462" width="2" height="10" fill="#FF00FF"/>
<rect x="231" y="466" width="1" height="1" fill="#FF00FF"/>
<rect x="232" y="462" width="2" height="10" fill="#FF00FF"/>
<rect x="234" y="466" width="7" height="1" fill="#FF00FF"/>
<rect x="239" y="465" width="1" height="1" fill="#FF00FF"/>
<rect x="239" y="467" width="1" height="1" fill="#FF00FF"/>
<rect x="238" y="464" width="1" height="1" fill="#FF00FF"/>
<rect x="238" y="468" width="1" height="1" fill="#FF00FF"/>
<rect x="237" y="463" width="1" height="1" fill="#FF00FF"/>
<rect x="237" y="469" width="1" height="1" fill="#FF00FF"/>
<rect x="248" y="462" width="6" height="10" fill="#FF00FF"/>
<rect x="254" y="466" width="7" height="1" fill="#FF00FF"/>
<rect x="259" y="465" width="1" height="1" fill="#FF00FF"/>
<rect x="259" y="467" width="1" height="1" fill="#FF00FF"/>
<rect x="258" y="464" width="1" height="1" fill="#FF00FF"/>
<rect x="258" y="468" width="1" height="1" fill="#FF00FF"/>
<rect x="257" y="463" width="1" height="1" fill="#FF00FF"/>
<rect x="257" y="469" width="1" height="1" fill="#FF00FF"/>
<rect x="275" y="466" width="8" height="1" fill="#FF00FF"/>
<rect x="276" y="465" width="1" height="1" fill="#FF00FF"/>
<rect x="276" y="467" width="1" height="1" fill="#FF00FF"/>
<rect x="277" y="464" width="1" height="1" fill="#FF00FF"/>
<rect x="277" y="468" width="1" height="1" fill="#FF00FF"/>
<rect x="278" y="463" width="1" height="1" fill="#FF00FF"/>
<rect x="278" y="469" width="1" height="1" fill="#FF00FF"/>
<rect x="283" y="462" width="4" height="10" fill="#FF00FF"/>
<rect x="306" y="462" width="5" height="10" fill="#FF00FF"/>
<rect x="311" y="466" width="7" height="1" fill="#FF00FF"/>
<rect x="316" y="465" width="1" height="1" fill="#FF00FF"/>
<rect x="316" y="467" width="1" height="1" fill="#FF00FF"/>
<rect x="315" y="464" width="1" height="1" fill="#FF00FF"/>
<rect x="315" y="468" width="1" height="1" fill="#FF00FF"/>
<rect x="314" y="463" width="1" height="1" fill="#FF00FF"/>
<rect x="314" y="469" width="1" height="1" fill="#FF00FF"/>
<rect x="435" y="466" width="8" height="1" fill="#FF00FF"/>
<rect x="436" y="465" width="1" height="1" fill="#FF00FF"/>
<rect x="436" y="467" width="1" height="1" fill="#FF00FF"/>
<rect x="437" y="464" width="1" height="1" fill="#FF00FF"/>
<rect x="437" y="468" width="1" height="1" fill="#FF00FF"/>
<rect x="438" y="463" width="1" height="1" fill="#FF00FF"/>
<rect x="438" y="469" width="1" height="1" fill="#FF00FF"/>
<rect x="443" y="462" width="4" height="10" fill="#FF00FF"/>
<rect x="447" y="466" width="2" height="1" fill="#FF00FF"/>
<rect x="449" y="462" width="3" height="10" fill="#FF00FF"/>
<rect x="635" y="466" width="8" height="1" fill="#FF00FF"/>
<rect x="636" y="465" width="1" height="1" fill="#FF00FF"/>
<rect x="636" y="467" width="1" height="1" fill="#FF00FF"/>
<rect x="637" y="464" width="1" height="1" fill="#FF00FF"/>
<rect x="637" y="468" width="1" height="1" fill="#FF00FF"/>
<rect x="638" y="463" width="1" height="1" fill="#FF00FF"/>
<rect x="638" y="469" width="1" height="1" fill="#FF00FF"/>
<rect x="643" y="462" width="3" height="10" fill="#FF00FF"/>
<rect x="656" y="462" width="2" height="10" fill="#FF00FF"/>
<rect x="657" y="466" width="1" height="1" fill="#FF00FF"/>
<rect x="658" y="465" width="1" height="1" fill="#FF00FF"/>
<rect x="659" y="464" width="1" height="1" fill="#FF00FF"/>
<rect x="659" y="463" width="1" height="1" fill="#FF00FF"/>
<rect x="660" y="462" width="1" height="1" fill="#FF00FF"/>
<rect x="660" y="462" width="1" height="1" fill="#FF00FF"/>
<rect x="661" y="463" width="1" height="1" fill="#FF00FF"/>
<rect x="662" y="464" width="1" height="1" fill="#FF00FF"/>
<rect x="663" y="465" width="1" height="1" fill="#FF00FF"/>
<rect x="664" y="466" width="1" height="1" fill="#FF00FF"/>
<rect x="664" y="462" width="5" height="10" fill="#FF00FF"/>
<rect x="669" y="466" width="7" height="1" fill="#FF00FF"/>
<rect x="674" y="465" width="1" height="1" fill="#FF00FF"/>
<rect x="674" y="467" width="1" height="1" fill="#FF00FF"/>
<rect x="673" y="464" width="1" height="1" fill="#FF00FF"/>
<rect x="673" y="468" width="1" height="1" fill="#FF00FF"/>
<rect x="672" y="463" width="1" height="1" fill="#FF00FF"/>
<rect x="672" y="469" width="1" height="1" fill="#FF00FF"/>
<rect x="764" y="462" width="2" height="10" fill="#FF00FF"/>
<rect x="766" y="466" width="8" height="1" fill="#FF00FF"/>
<rect x="772" y="465" width="1" height="1" fill="#FF00FF"/>
<rect x="772" y="467" width="1" height="1" fill="#FF00FF"/>
<rect x="771" y="464" width="1" height="1" fill="#FF00FF"/>
<rect x="771" y="468" width="1" height="1" fill="#FF00FF"/>
<rect x="770" y="463" width="1" height="1" fill="#FF00FF"/>
<rect x="770" y="469" width="1" height="1" fill="#FF00FF"/>
<rect x="776" y="462" width="2" height="10" fill="#FF00FF"/>
<rect x="778" y="466" width="8" height="1" fill="#FF00FF"/>
<rect x="784" y="465" width="1" height="1" fill="#FF00FF"/>
<rect x="784" y="467" width="1" height="1" fill="#FF00FF"/>
<rect x="783" y="464" width="1" height="1" fill="#FF00FF"/>
<rect x="783" y="468" width="1" height="1" fill="#FF00FF"/>
<rect x="782" y="463" width="1" height="1" fill="#FF00FF"/>
<rect x="782" y="469" width="1" height="1" fill="#FF00FF"/>
<rect x="851" y="462" width="3" height="10" fill="#FF00FF"/>
<rect x="854" y="466" width="1" height="1" fill="#FF00FF"/>
<rect x="855" y="462" width="5" height="10" fill="#FF00FF"/>
<rect x="860" y="466" width="8" height="1" fill="#FF00FF"/>
<rect x="866" y="465" width="1" height="1" fill="#FF00FF"/>
<rect x="866" y="467" width="1" height="1" fill="#FF00FF"/>
<rect x="865" y="464" width="1" height="1" fill="#FF00FF"/>
<rect x="865" y="468" width="1" height="1" fill="#FF00FF"/>
<rect x="864" y="463" width="1" height="1" fill="#FF00FF"/>
<rect x="864" y="469" width="1" height="1" fill="#FF00FF"/>
<rect x="60" y="478" width="8" height="1" fill="#FF00FF"/>
<rect x="61" y="477" width="1" height="1" fill="#FF00FF"/>
<rect x="61" y="479" width="1" height="1" fill="#FF00FF"/>
<rect x="62" y="476" width="1" height="1" fill="#FF00FF"/>
<rect x="62" y="480" width="1" height="1" fill="#FF00FF"/>
<rect x="63" y="475" width="1" height="1" fill="#FF00FF"/>
<rect x="63" y="481" width="1" height="1" fill="#FF00FF"/>
<rect x="68" y="474" width="3" height="10" fill="#FF00FF"/>
<rect x="71" y="478" width="3" height="1" fill="#FF00FF"/>
<rect x="74" y="474" width="2" height="10" fill="#FF00FF"/>
<rect x="229" y="474" width="5" height="10" fill="#FF00FF"/>
<rect x="234" y="478" width="7" height="1" fill="#FF00FF"/>
<rect x="239" y="477" width="1" height="1" fill="#FF00FF"/>
<rect x="239" y="479" width="1" height="1" fill="#FF00FF"/>
<rect x="238" y="476" width="1" height="1" fill="#FF00FF"/>
<rect x="238" y="480" width="1" height="1" fill="#FF00FF"/>
<rect x="237" y="475" width="1" height="1" fill="#FF00FF"/>
<rect x="237" y="481" width="1" height="1" fill="#FF00FF"/>
<rect x="248" y="474" width="6" height="10" fill="#FF00FF"/>
<rect x="254" y="478" width="7" height="1" fill="#FF00FF"/>
<rect x="259" y="477" width="1" height="1" fill="#FF00FF"/>
<rect x="259" y="479" width="1" height="1" fill="#FF00FF"/>
<rect x="258" y="476" width="1" height="1" fill="#FF00FF"/>
<rect x="258" y="480" width="1" height="1" fill="#FF00FF"/>
<rect x="257" y="475" width="1" height="1" fill="#FF00FF"/>
<rect x="257" y="481" width="1" height="1" fill="#FF00FF"/>
<rect x="275" y="478" width="8" height="1" fill="#FF00FF"/>
<rect x="276" y="477" width="1" height="1" fill="#FF00FF"/>
<rect x="276" y="479" width="1" height="1" fill="#FF00FF"/>
<rect x="277" y="476" width="1" height="1" fill="#FF00FF"/>
<rect x="277" y="480" width="1" height="1" fill="#FF00FF"/>
<rect x="278" y="475" width="1" height="1" fill="#FF00FF"/>
<rect x="278" y="481" width="1" height="1" fill="#FF00FF"/>
<rect x="283" y="474" width="5" height="10" fill="#FF00FF"/>
<rect x="306" y="474" width="5" height="10" fill="#FF00FF"/>
<rect x="311" y="478" width="7" height="1" fill="#FF00FF"/>
<rect x="316" y="477" width="1" height="1" fill="#FF00FF"/>
<rect x="316" y="479" width="1" height="1" fill="#FF00FF"/>
<rect x="315" y="476" width="1" height="1" fill="#FF00FF"/>
<rect x="315" y="480" width="1" height="1" fill="#FF00FF"/>
<rect x="314" y="475" width="1" height="1" fill="#FF00FF"/>
<rect x="314" y="481" width="1" height="1" fill="#FF00FF"/>
<rect x="435" y="478" width="8" height="1" fill="#FF00FF"/>
<rect x="436" y="477" width="1" height="1" fill="#FF00FF"/>
<rect x="436" y="479" width="1" height="1" fill="#FF00FF"/>
<rect x="437" y="476" width="1" height="1" fill="#FF00FF"/>
<rect x="437" y="480" width="1" height="1" fill="#FF00FF"/>
<rect x="438" y="475" width="1" height="1" fill="#FF00FF"/>
<rect x="438" y="481" width="1" height="1" fill="#FF00FF"/>
<rect x="443" y="474" width="4" height="10" fill="#FF00FF"/>
<rect x="447" y="478" width="2" height="1" fill="#FF00FF"/>
<rect x="449" y="474" width="3" height="10" fill="#FF00FF"/>
<rect x="644" y="474" width="4" height="10" fill="#FF00FF"/>
<rect x="648" y="478" width="7" height="1" fill="#FF00FF"/>
<rect x="653" y="477" width="1" height="1" fill="#FF00FF"/>
<rect x="653" y="479" width="1" height="1" fill="#FF00FF"/>
<rect x="652" y="476" width="1" height="1" fill="#FF00FF"/>
<rect x="652" y="480" width="1" height="1" fill="#FF00FF"/>
<rect x="651" y="475" width="1" height="1" fill="#FF00FF"/>
<rect x="651" y="481" width="1" height="1" fill="#FF00FF"/>
<rect x="666" y="474" width="3" height="10" fill="#FF00FF"/>
<rect x="669" y="478" width="7" height="1" fill="#FF00FF"/>
<rect x="674" y="477" width="1" height="1" fill="#FF00FF"/>
<rect x="674" y="479" width="1" height="1" fill="#FF00FF"/>
<rect x="673" y="476" width="1" height="1" fill="#FF00FF"/>
<rect x="673" y="480" width="1" height="1" fill="#FF00FF"/>
<rect x="672" y="475" width="1" height="1" fill="#FF00FF"/>
<rect x="672" y="481" width="1" height="1" fill="#FF00FF"/>
<rect x="764" y="474" width="3" height="10" fill="#FF00FF"/>
<rect x="767" y="478" width="7" height="1" fill="#FF00FF"/>
<rect x="772" y="477" width="1" height="1" fill="#FF00FF"/>
<rect x="772" y="479" width="1" height="1" fill="#FF00FF"/>
<rect x="771" y="476" width="1" height="1" fill="#FF00FF"/>
<rect x="771" y="480" width="1" height="1" fill="#FF00FF"/>
<rect x="770" y="475" width="1" height="1" fill="#FF00FF"/>
<rect x="770" y="481" width="1" height="1" fill="#FF00FF"/>
<rect x="778" y="474" width="3" height="10" fill="#FF00FF"/>
<rect x="781" y="478" width="7" height="1" fill="#FF00FF"/>
<rect x="786" y="477" width="1" height="1" fill="#FF00FF"/>
<rect x="786" y="479" width="1" height="1" fill="#FF00FF"/>
<rect x="785" y="476" width="1" height="1" fill="#FF00FF"/>
<rect x="785" y="480" width="1" height="1" fill="#FF00FF"/>
<rect x="784" y="475" width="1" height="1" fill="#FF00FF"/>
<rect x="784" y="481" width="1" height="1" fill="#FF00FF"/>
<rect x="851" y="474" width="5" height="10" fill="#FF00FF"/>
<rect x="856" y="478" width="1" height="1" fill="#FF00FF"/>
<rect x="857" y="474" width="3" height="10" fill="#FF00FF"/>
<rect x="860" y="478" width="8" height="1" fill="#FF00FF"/>
<rect x="866" y="477" width="1" height="1" fill="#FF00FF"/>
<rect x="866" y="479" width="1" height="1" fill="#FF00FF"/>
<rect x="865" y="476" width="1" height="1" fill="#FF00FF"/>
<rect x="865" y="480" width="1" height="1" fill="#FF00FF"/>
<rect x="864" y="475" width="1" height="1" fill="#FF00FF"/>
<rect x="864" y="481" width="1" height="1" fill="#FF00FF"/>
<rect x="229" y="486" width="11" height="10" fill="#FF00FF"/>
<rect x="240" y="490" width="8" height="1" fill="#FF00FF"/>
<rect x="246" y="489" width="1" height="1" fill="#FF00FF"/>
<rect x="246" y="491" width="1" height="1" fill="#FF00FF"/>
<rect x="245" y="488" width="1" height="1" fill="#FF00FF"/>
<rect x="245" y="492" width="1" height="1" fill="#FF00FF"/>
<rect x="244" y="487" width="1" height="1" fill="#FF00FF"/>
<rect x="244" y="493" width="1" height="1" fill="#FF00FF"/>
<rect x="275" y="490" width="8" height="1" fill="#FF00FF"/>
<rect x="276" y="489" width="1" height="1" fill="#FF00FF"/>
<rect x="276" y="491" width="1" height="1" fill="#FF00FF"/>
<rect x="277" y="488" width="1" height="1" fill="#FF00FF"/>
<rect x="277" y="492" width="1" height="1" fill="#FF00FF"/>
<rect x="278" y="487" width="1" height="1" fill="#FF00FF"/>
<rect x="278" y="493" width="1" height="1" fill="#FF00FF"/>
<rect x="283" y="486" width="5" height="10" fill="#FF00FF"/>
<rect x="310" y="486" width="13" height="10" fill="#FF00FF"/>
<rect x="323" y="486" width="2" height="1" fill="#FF00FF"/>
<rect x="324" y="486" width="1" height="1" fill="#FF00FF"/>
<rect x="325" y="487" width="1" height="1" fill="#FF00FF"/>
<rect x="326" y="488" width="1" height="1" fill="#FF00FF"/>
<rect x="326" y="489" width="1" height="1" fill="#FF00FF"/>
<rect x="327" y="490" width="1" height="1" fill="#FF00FF"/>
<rect x="327" y="486" width="2" height="10" fill="#FF00FF"/>
<rect x="329" y="490" width="7" height="1" fill="#FF00FF"/>
<rect x="334" y="489" width="1" height="1" fill="#FF00FF"/>
<rect x="334" y="491" width="1" height="1" fill="#FF00FF"/>
<rect x="333" y="488" width="1" height="1" fill="#FF00FF"/>
<rect x="333" y="492" width="1" height="1" fill="#FF00FF"/>
<rect x="332" y="487" width="1" height="1" fill="#FF00FF"/>
<rect x="332" y="493" width="1" height="1" fill="#FF00FF"/>
<rect x="448" y="490" width="8" height="1" fill="#FF00FF"/>
<rect x="449" y="489" width="1" height="1" fill="#FF00FF"/>
<rect x="449" y="491" width="1" height="1" fill="#FF00FF"/>
<rect x="450" y="488" width="1" height="1" fill="#FF00FF"/>
<rect x="450" y="492" width="1" height="1" fill="#FF00FF"/>
<rect x="451" y="487" width="1" height="1" fill="#FF00FF"/>
<rect x="451" y="493" width="1" height="1" fill="#FF00FF"/>
<rect x="456" y="486" width="12" height="10" fill="#FF00FF"/>
<rect x="468" y="490" width="1" height="1" fill="#FF00FF"/>
<rect x="469" y="486" width="2" height="10" fill="#FF00FF"/>
<rect x="470" y="490" width="1" height="1" fill="#FF00FF"/>
<rect x="471" y="489" width="1" height="1" fill="#FF00FF"/>
<rect x="472" y="488" width="1" height="1" fill="#FF00FF"/>
<rect x="473" y="488" width="1" height="1" fill="#FF00FF"/>
<rect x="474" y="487" width="1" height="1" fill="#FF00FF"/>
<rect x="475" y="486" width="1" height="1" fill="#FF00FF"/>
<rect x="475" y="486" width="1" height="1" fill="#FF00FF"/>
<rect x="476" y="487" width="1" height="1" fill="#FF00FF"/>
<rect x="477" y="487" width="1" height="1" fill="#FF00FF"/>
<rect x="478" y="488" width="1" height="1" fill="#FF00FF"/>
<rect x="479" y="489" width="1" height="1" fill="#FF00FF"/>
<rect x="480" y="489" width="1" height="1" fill="#FF00FF"/>
<rect x="481" y="490" width="1" height="1" fill="#FF00FF"/>
<rect x="481" y="486" width="2" height="10" fill="#FF00FF"/>
<rect x="644" y="486" width="4" height="10" fill="#FF00FF"/>
<rect x="648" y="490" width="7" height="1" fill="#FF00FF"/>
<rect x="653" y="489" width="1" height="1" fill="#FF00FF"/>
<rect x="653" y="491" width="1" height="1" fill="#FF00FF"/>
<rect x="652" y="488" width="1" height="1" fill="#FF00FF"/>
<rect x="652" y="492" width="1" height="1" fill="#FF00FF"/>
<rect x="651" y="487" width="1" height="1" fill="#FF00FF"/>
<rect x="651" y="493" width="1" height="1" fill="#FF00FF"/>
<rect x="666" y="486" width="3" height="10" fill="#FF00FF"/>
<rect x="669" y="490" width="7" height="1" fill="#FF00FF"/>
<rect x="674" y="489" width="1" height="1" fill="#FF00FF"/>
<rect x="674" y="491" width="1" height="1" fill="#FF00FF"/>
<rect x="673" y="488" width="1" height="1" fill="#FF00FF"/>
<rect x="673" y="492" width="1" height="1" fill="#FF00FF"/>
<rect x="672" y="487" width="1" height="1" fill="#FF00FF"/>
<rect x="672" y="493" width="1" height="1" fill="#FF00FF"/>
<rect x="757" y="490" width="8" height="1" fill="#FF00FF"/>
<rect x="758" y="489" width="1" height="1" fill="#FF00FF"/>
<rect x="758" y="491" width="1" height="1" fill="#FF00FF"/>
<rect x="759" y="488" width="1" height="1" fill="#FF00FF"/>
<rect x="759" y="492" width="1" height="1" fill="#FF00FF"/>
<rect x="760" y="487" width="1" height="1" fill="#FF00FF"/>
<rect x="760" y="493" width="1" height="1" fill="#FF00FF"/>
<rect x="765" y="486" width="2" height="10" fill="#FF00FF"/>
<rect x="774" y="486" width="2" height="10" fill="#FF00FF"/>
<rect x="776" y="490" width="7" height="1" fill="#FF00FF"/>
<rect x="781" y="489" width="1" height="1" fill="#FF00FF"/>
<rect x="781" y="491" width="1" height="1" fill="#FF00FF"/>
<rect x="780" y="488" width="1" height="1" fill="#FF00FF"/>
<rect x="780" y="492" width="1" height="1" fill="#FF00FF"/>
<rect x="779" y="487" width="1" height="1" fill="#FF00FF"/>
<rect x="779" y="493" width="1" height="1" fill="#FF00FF"/>
<rect x="229" y="498" width="2" height="10" fill="#FF00FF"/>
<rect x="231" y="502" width="1" height="1" fill="#FF00FF"/>
<rect x="232" y="498" width="8" height="10" fill="#FF00FF"/>
<rect x="240" y="502" width="8" height="1" fill="#FF00FF"/>
<rect x="246" y="501" width="1" height="1" fill="#FF00FF"/>
<rect x="246" y="503" width="1" height="1" fill="#FF00FF"/>
<rect x="245" y="500" width="1" height="1" fill="#FF00FF"/>
<rect x="245" y="504" width="1" height="1" fill="#FF00FF"/>
<rect x="244" y="499" width="1" height="1" fill="#FF00FF"/>
<rect x="244" y="505" width="1" height="1" fill="#FF00FF"/>
<rect x="275" y="502" width="8" height="1" fill="#FF00FF"/>
<rect x="276" y="501" width="1" height="1" fill="#FF00FF"/>
<rect x="276" y="503" width="1" height="1" fill="#FF00FF"/>
<rect x="277" y="500" width="1" height="1" fill="#FF00FF"/>
<rect x="277" y="504" width="1" height="1" fill="#FF00FF"/>
<rect x="278" y="499" width="1" height="1" fill="#FF00FF"/>
<rect x="278" y="505" width="1" height="1" fill="#FF00FF"/>
<rect x="283" y="498" width="4" height="10" fill="#FF00FF"/>
<rect x="310" y="498" width="13" height="10" fill="#FF00FF"/>
<rect x="323" y="502" width="1" height="1" fill="#FF00FF"/>
<rect x="324" y="498" width="2" height="10" fill="#FF00FF"/>
<rect x="326" y="502" width="1" height="1" fill="#FF00FF"/>
<rect x="327" y="498" width="2" height="10" fill="#FF00FF"/>
<rect x="329" y="502" width="7" height="1" fill="#FF00FF"/>
<rect x="334" y="501" width="1" height="1" fill="#FF00FF"/>
<rect x="334" y="503" width="1" height="1" fill="#FF00FF"/>
<rect x="333" y="500" width="1" height="1" fill="#FF00FF"/>
<rect x="333" y="504" width="1" height="1" fill="#FF00FF"/>
<rect x="332" y="499" width="1" height="1" fill="#FF00FF"/>
<rect x="332" y="505" width="1" height="1" fill="#FF00FF"/>
<rect x="448" y="502" width="8" height="1" fill="#FF00FF"/>
<rect x="449" y="501" width="1" height="1" fill="#FF00FF"/>
<rect x="449" y="503" width="1" height="1" fill="#FF00FF"/>
<rect x="450" y="500" width="1" height="1" fill="#FF00FF"/>
<rect x="450" y="504" width="1" height="1" fill="#FF00FF"/>
<rect x="451" y="499" width="1" height="1" fill="#FF00FF"/>
<rect x="451" y="505" width="1" height="1" fill="#FF00FF"/>
<rect x="456" y="498" width="12" height="10" fill="#FF00FF"/>
<rect x="468" y="502" width="1" height="1" fill="#FF00FF"/>
<rect x="469" y="498" width="2" height="10" fill="#FF00FF"/>
<rect x="671" y="498" width="2" height="10" fill="#FF00FF"/>
<rect x="672" y="502" width="1" height="1" fill="#FF00FF"/>
<rect x="673" y="501" width="1" height="1" fill="#FF00FF"/>
<rect x="674" y="500" width="1" height="1" fill="#FF00FF"/>
<rect x="675" y="500" width="1" height="1" fill="#FF00FF"/>
<rect x="676" y="499" width="1" height="1" fill="#FF00FF"/>
<rect x="677" y="498" width="1" height="1" fill="#FF00FF"/>
<rect x="677" y="498" width="1" height="1" fill="#FF00FF"/>
<rect x="678" y="499" width="1" height="1" fill="#FF00FF"/>
<rect x="679" y="499" width="1" height="1" fill="#FF00FF"/>
<rect x="680" y="500" width="1" height="1" fill="#FF00FF"/>
<rect x="681" y="501" width="1" height="1" fill="#FF00FF"/>
<rect x="682" y="501" width="1" height="1" fill="#FF00FF"/>
<rect x="683" y="502" width="1" height="1" fill="#FF00FF"/>
<rect x="683" y="498" width="3" height="10" fill="#FF00FF"/>
<rect x="686" y="502" width="7" height="1" fill="#FF00FF"/>
<rect x="691" y="501" width="1" height="1" fill="#FF00FF"/>
<rect x="691" y="503" width="1" height="1" fill="#FF00FF"/>
<rect x="690" y="500" width="1" height="1" fill="#FF00FF"/>
<rect x="690" y="504" width="1" height="1" fill="#FF00FF"/>
<rect x="689" y="499" width="1" height="1" fill="#FF00FF"/>
<rect x="689" y="505" width="1" height="1" fill="#FF00FF"/>
<rect x="758" y="502" width="8" height="1" fill="#FF00FF"/>
<rect x="759" y="501" width="1" height="1" fill="#FF00FF"/>
<rect x="759" y="503" width="1" height="1" fill="#FF00FF"/>
<rect x="760" y="500" width="1" height="1" fill="#FF00FF"/>
<rect x="760" y="504" width="1" height="1" fill="#FF00FF"/>
<rect x="761" y="499" width="1" height="1" fill="#FF00FF"/>
<rect x="761" y="505" width="1" height="1" fill="#FF00FF"/>
<rect x="766" y="498" width="4" height="10" fill="#FF00FF"/>
<rect x="770" y="502" width="8" height="1" fill="#FF00FF"/>
<rect x="771" y="501" width="1" height="1" fill="#FF00FF"/>
<rect x="771" y="503" width="1" height="1" fill="#FF00FF"/>
<rect x="772" y="500" width="1" height="1" fill="#FF00FF"/>
<rect x="772" y="504" width="1" height="1" fill="#FF00FF"/>
<rect x="773" y="499" width="1" height="1" fill="#FF00FF"/>
<rect x="773" y="505" width="1" height="1" fill="#FF00FF"/>
<rect x="778" y="498" width="2" height="10" fill="#FF00FF"/>
<rect x="310" y="510" width="13" height="10" fill="#FF00FF"/>
<rect x="323" y="514" width="1" height="1" fill="#FF00FF"/>
<rect x="324" y="510" width="2" height="10" fill="#FF00FF"/>
<rect x="326" y="514" width="1" height="1" fill="#FF00FF"/>
<rect x="327" y="510" width="2" height="10" fill="#FF00FF"/>
<rect x="329" y="514" width="7" height="1" fill="#FF00FF"/>
<rect x="334" y="513" width="1" height="1" fill="#FF00FF"/>
<rect x="334" y="515" width="1" height="1" fill="#FF00FF"/>
<rect x="333" y="512" width="1" height="1" fill="#FF00FF"/>
<rect x="333" y="516" width="1" height="1" fill="#FF00FF"/>
<rect x="332" y="511" width="1" height="1" fill="#FF00FF"/>
<rect x="332" y="517" width="1" height="1" fill="#FF00FF"/>
<rect x="448" y="514" width="8" height="1" fill="#FF00FF"/>
<rect x="449" y="513" width="1" height="1" fill="#FF00FF"/>
<rect x="449" y="515" width="1" height="1" fill="#FF00FF"/>
<rect x="450" y="512" width="1" height="1" fill="#FF00FF"/>
<rect x="450" y="516" width="1" height="1" fill="#FF00FF"/>
<rect x="451" y="511" width="1" height="1" fill="#FF00FF"/>
<rect x="451" y="517" width="1" height="1" fill="#FF00FF"/>
<rect x="456" y="510" width="8" height="10" fill="#FF00FF"/>
<rect x="464" y="514" width="1" height="1" fill="#FF00FF"/>
<rect x="465" y="510" width="3" height="10" fill="#FF00FF"/>
<rect x="468" y="514" width="1" height="1" fill="#FF00FF"/>
<rect x="469" y="510" width="2" height="10" fill="#FF00FF"/>
<rect x="758" y="514" width="8" height="1" fill="#FF00FF"/>
<rect x="759" y="513" width="1" height="1" fill="#FF00FF"/>
<rect x="759" y="515" width="1" height="1" fill="#FF00FF"/>
<rect x="760" y="512" width="1" height="1" fill="#FF00FF"/>
<rect x="760" y="516" width="1" height="1" fill="#FF00FF"/>
<rect x="761" y="511" width="1" height="1" fill="#FF00FF"/>
<rect x="761" y="517" width="1" height="1" fill="#FF00FF"/>
<rect x="766" y="510" width="2" height="10" fill="#FF00FF"/>
<rect x="310" y="522" width="13" height="10" fill="#FF00FF"/>
<rect x="323" y="526" width="1" height="1" fill="#FF00FF"/>
<rect x="324" y="522" width="2" height="10" fill="#FF00FF"/>
<rect x="326" y="526" width="1" height="1" fill="#FF00FF"/>
<rect x="327" y="522" width="2" height="10" fill="#FF00FF"/>
<rect x="329" y="526" width="7" height="1" fill="#FF00FF"/>
<rect x="334" y="525" width="1" height="1" fill="#FF00FF"/>
<rect x="334" y="527" width="1" height="1" fill="#FF00FF"/>
<rect x="333" y="524" width="1" height="1" fill="#FF00FF"/>
<rect x="333" y="528" width="1" height="1" fill="#FF00FF"/>
<rect x="332" y="523" width="1" height="1" fill="#FF00FF"/>
<rect x="332" y="529" width="1" height="1" fill="#FF00FF"/>
<rect x="448" y="526" width="8" height="1" fill="#FF00FF"/>
<rect x="449" y="525" width="1" height="1" fill="#FF00FF"/>
<rect x="449" y="527" width="1" height="1" fill="#FF00FF"/>
<rect x="450" y="524" width="1" height="1" fill="#FF00FF"/>
<rect x="450" y="528" width="1" height="1" fill="#FF00FF"/>
<rect x="451" y="523" width="1" height="1" fill="#FF00FF"/>
<rect x="451" y="529" width="1" height="1" fill="#FF00FF"/>
<rect x="456" y="522" width="8" height="10" fill="#FF00FF"/>
<rect x="464" y="526" width="1" height="1" fill="#FF00FF"/>
<rect x="465" y="522" width="3" height="10" fill="#FF00FF"/>
<rect x="468" y="526" width="1" height="1" fill="#FF00FF"/>
<rect x="469" y="522" width="2" height="10" fill="#FF00FF"/>
<rect x="761" y="526" width="8" height="1" fill="#FF00FF"/>
<rect x="762" y="525" width="1" height="1" fill="#FF00FF"/>
<rect x="762" y="527" width="1" height="1" fill="#FF00FF"/>
<rect x="763" y="524" width="1" height="1" fill="#FF00FF"/>
<rect x="763" y="528" width="1" height="1" fill="#FF00FF"/>
<rect x="764" y="523" width="1" height="1" fill="#FF00FF"/>
<rect x="764" y="529" width="1" height="1" fill="#FF00FF"/>
<rect x="769" y="522" width="2" height="10" fill="#FF00FF"/>
<rect x="310" y="534" width="13" height="10" fill="#FF00FF"/>
<rect x="323" y="538" width="1" height="1" fill="#FF00FF"/>
<rect x="324" y="534" width="2" height="10" fill="#FF00FF"/>
<rect x="326" y="538" width="1" height="1" fill="#FF00FF"/>
<rect x="327" y="534" width="2" height="10" fill="#FF00FF"/>
<rect x="329" y="538" width="7" height="1" fill="#FF00FF"/>
<rect x="334" y="537" width="1" height="1" fill="#FF00FF"/>
<rect x="334" y="539" width="1" height="1" fill="#FF00FF"/>
<rect x="333" y="536" width="1" height="1" fill="#FF00FF"/>
<rect x="333" y="540" width="1" height="1" fill="#FF00FF"/>
<rect x="332" y="535" width="1" height="1" fill="#FF00FF"/>
<rect x="332" y="541" width="1" height="1" fill="#FF00FF"/>
<rect x="448" y="538" width="8" height="1" fill="#FF00FF"/>
<rect x="449" y="537" width="1" height="1" fill="#FF00FF"/>
<rect x="449" y="539" width="1" height="1" fill="#FF00FF"/>
<rect x="450" y="536" width="1" height="1" fill="#FF00FF"/>
<rect x="450" y="540" width="1" height="1" fill="#FF00FF"/>
<rect x="451" y="535" width="1" height="1" fill="#FF00FF"/>
<rect x="451" y="541" width="1" height="1" fill="#FF00FF"/>
<rect x="456" y="534" width="12" height="10" fill="#FF00FF"/>
<rect x="468" y="538" width="1" height="1" fill="#FF00FF"/>
<rect x="469" y="534" width="2" height="10" fill="#FF00FF"/>
<rect x="762" y="538" width="8" height="1" fill="#FF00FF"/>
<rect x="763" y="537" width="1" height="1" fill="#FF00FF"/>
<rect x="763" y="539" width="1" height="1" fill="#FF00FF"/>
<rect x="764" y="536" width="1" height="1" fill="#FF00FF"/>
<rect x="764" y="540" width="1" height="1" fill="#FF00FF"/>
<rect x="765" y="535" width="1" height="1" fill="#FF00FF"/>
<rect x="765" y="541" width="1" height="1" fill="#FF00FF"/>
<rect x="770" y="534" width="2" height="10" fill="#FF00FF"/>
<rect x="448" y="550" width="8" height="1" fill="#FF00FF"/>
<rect x="449" y="549" width="1" height="1" fill="#FF00FF"/>
<rect x="449" y="551" width="1" height="1" fill="#FF00FF"/>
<rect x="450" y="548" width="1" height="1" fill="#FF00FF"/>
<rect x="450" y="552" width="1" height="1" fill="#FF00FF"/>
<rect x="451" y="547" width="1" height="1" fill="#FF00FF"/>
<rect x="451" y="553" width="1" height="1" fill="#FF00FF"/>
<rect x="456" y="546" width="12" height="10" fill="#FF00FF"/>
<rect x="468" y="550" width="1" height="1" fill="#FF00FF"/>
<rect x="469" y="546" width="2" height="10" fill="#FF00FF"/>
<rect x="763" y="550" width="8" height="1" fill="#FF00FF"/>
<rect x="764" y="549" width="1" height="1" fill="#FF00FF"/>
<rect x="764" y="551" width="1" height="1" fill="#FF00FF"/>
<rect x="765" y="548" width="1" height="1" fill="#FF00FF"/>
<rect x="765" y="552" width="1" height="1" fill="#FF00FF"/>
<rect x="766" y="547" width="1" height="1" fill="#FF00FF"/>
<rect x="766" y="553" width="1" height="1" fill="#FF00FF"/>
<rect x="771" y="546" width="2" height="10" fill="#FF00FF"/>
<rect x="764" y="562" width="8" height="1" fill="#FF00FF"/>
<rect x="765" y="561" width="1" height="1" fill="#FF00FF"/>
<rect x="765" y="563" width="1" height="1" fill="#FF00FF"/>
<rect x="766" y="560" width="1" height="1" fill="#FF00FF"/>
<rect x="766" y="564" width="1" height="1" fill="#FF00FF"/>
<rect x="767" y="559" width="1" height="1" fill="#FF00FF"/>
<rect x="767" y="565" width="1" height="1" fill="#FF00FF"/>
<rect x="772" y="558" width="2" height="10" fill="#FF00FF"/>
<rect x="765" y="574" width="8" height="1" fill="#FF00FF"/>
<rect x="766" y="573" width="1" height="1" fill="#FF00FF"/>
<rect x="766" y="575" width="1" height="1" fill="#FF00FF"/>
<rect x="767" y="572" width="1" height="1" fill="#FF00FF"/>
<rect x="767" y="576" width="1" height="1" fill="#FF00FF"/>
<rect x="768" y="571" width="1" height="1" fill="#FF00FF"/>
<rect x="768" y="577" width="1" height="1" fill="#FF00FF"/>
<rect x="773" y="570" width="2" height="10" fill="#FF00FF"/>
<rect x="765" y="586" width="8" height="1" fill="#FF00FF"/>
<rect x="766" y="585" width="1" height="1" fill="#FF00FF"/>
<rect x="766" y="587" width="1" height="1" fill="#FF00FF"/>
<rect x="767" y="584" width="1" height="1" fill="#FF00FF"/>
<rect x="767" y="588" width="1" height="1" fill="#FF00FF"/>
<rect x="768" y="583" width="1" height="1" fill="#FF00FF"/>
<rect x="768" y="589" width="1" height="1" fill="#FF00FF"/>
<rect x="773" y="582" width="4" height="10" fill="#FF00FF"/>
<rect x="766" y="598" width="8" height="1" fill="#FF00FF"/>
<rect x="767" y="597" width="1" height="1" fill="#FF00FF"/>
<rect x="767" y="599" width="1" height="1" fill="#FF00FF"/>
<rect x="768" y="596" width="1" height="1" fill="#FF00FF"/>
<rect x="768" y="600" width="1" height="1" fill="#FF00FF"/>
<rect x="769" y="595" width="1" height="1" fill="#FF00FF"/>
<rect x="769" y="601" width="1" height="1" fill="#FF00FF"/>
<rect x="774" y="594" width="2" height="10" fill="#FF00FF"/>
<rect x="766" y="610" width="8" height="1" fill="#FF00FF"/>
<rect x="767" y="609" width="1" height="1" fill="#FF00FF"/>
<rect x="767" y="611" width="1" height="1" fill="#FF00FF"/>
<rect x="768" y="608" width="1" height="1" fill="#FF00FF"/>
<rect x="768" y="612" width="1" height="1" fill="#FF00FF"/>
<rect x="769" y="607" width="1" height="1" fill="#FF00FF"/>
<rect x="769" y="613" width="1" height="1" fill="#FF00FF"/>
<rect x="774" y="606" width="2" height="10" fill="#FF00FF"/>
<rect x="766" y="622" width="8" height="1" fill="#FF00FF"/>
<rect x="767" y="621" width="1" height="1" fill="#FF00FF"/>
<rect x="767" y="623" width="1" height="1" fill="#FF00FF"/>
<rect x="768" y="620" width="1" height="1" fill="#FF00FF"/>
<rect x="768" y="624" width="1" height="1" fill="#FF00FF"/>
<rect x="769" y="619" width="1" height="1" fill="#FF00FF"/>
<rect x="769" y="625" width="1" height="1" fill="#FF00FF"/>
<rect x="774" y="618" width="2" height="10" fill="#FF00FF"/>
<rect x="768" y="634" width="8" height="1" fill="#FF00FF"/>
<rect x="769" y="633" width="1" height="1" fill="#FF00FF"/>
<rect x="769" y="635" width="1" height="1" fill="#FF00FF"/>
<rect x="770" y="632" width="1" height="1" fill="#FF00FF"/>
<rect x="770" y="636" width="1" height="1" fill="#FF00FF"/>
<rect x="771" y="631" width="1" height="1" fill="#FF00FF"/>
<rect x="771" y="637" width="1" height="1" fill="#FF00FF"/>
<rect x="776" y="630" width="2" height="10" fill="#FF00FF"/>
<rect x="59" y="440" width="2" height="1" fill="#FF00FF"/>
<text x="59.5" y="671.7" class="b" textLength="189" lengthAdjust="spacingAndGlyphs">UCSC segmental duplications</text>
<rect x="65" y="674" width="2" height="6" fill="#800080"/>
<rect x="68" y="674" width="2" height="6" fill="#0000FF"/>
<rect x="147" y="674" width="6" height="6" fill="#800080"/>
<rect x="243" y="674" width="2" height="6" fill="#0000FF"/>
<rect x="257" y="674" width="2" height="6" fill="#008000"/>
<rect x="280" y="674" width="2" height="6" fill="#008000"/>
<rect x="290" y="674" width="2" height="6" fill="#008000"/>
<rect x="294" y="674" width="2" height="6" fill="#800080"/>
<rect x="306" y="674" width="2" height="6" fill="#008000"/>
<rect x="312" y="674" width="2" height="6" fill="#0000FF"/>
<rect x="407" y="674" width="2" height="6" fill="#800080"/>
<rect x="482" y="674" width="2" height="6" fill="#0000FF"/>
<rect x="492" y="674" width="2" height="6" fill="#0000FF"/>
<rect x="500" y="674" width="2" height="6" fill="#008000"/>
<rect x="502" y="674" width="2" height="6" fill="#800080"/>
<rect x="642" y="674" width="2" height="6" fill="#800080"/>
<rect x="646" y="674" width="2" height="6" fill="#008000"/>
<rect x="749" y="674" width="2" height="6" fill="#0000FF"/>
<rect x="755" y="674" width="2" height="6" fill="#0000FF"/>
<rect x="802" y="674" width="2" height="6" fill="#008000"/>
<rect x="813" y="674" width="2" height="6" fill="#800080"/>
<rect x="147" y="682" width="6" height="6" fill="#800080"/>
<rect x="243" y="682" width="2" height="6" fill="#0000FF"/>
<rect x="257" y="682" width="2" height="6" fill="#008000"/>
<rect x="280" y="682" width="2" height="6" fill="#800080"/>
<rect x="290" y="682" width="2" height="6" fill="#008000"/>
<rect x="294" y="682" width="2" height="6" fill="#008000"/>
<rect x="306" y="682" width="2" height="6" fill="#008000"/>
<rect x="407" y="682" width="2" height="6" fill="#008000"/>
<rect x="492" y="682" width="2" height="6" fill="#008000"/>
<rect x="500" y="682" width="2" height="6" fill="#008000"/>
<rect x="642" y="682" width="2" height="6" fill="#800080"/>
<rect x="646" y="682" width="2" height="6" fill="#0000FF"/>
<rect x="749" y="682" width="2" height="6" fill="#008000"/>
<rect x="755" y="682" width="2" height="6" fill="#0000FF"/>
<rect x="813" y="682" width="2" height="6" fill="#0000FF"/>
<rect x="149" y="690" width="2" height="6" fill="#800080"/>
<rect x="152" y="690" width="3" height="6" fill="#800080"/>
<rect x="243" y="690" width="2" height="6" fill="#0000FF"/>
<rect x="257" y="690" width="2" height="6" fill="#800080"/>
<rect x="492" y="690" width="2" height="6" fill="#008000"/>
<rect x="500" y="690" width="2" height="6" fill="#0000FF"/>
<rect x="749" y="690" width="2" height="6" fill="#0000FF"/>
<rect x="755" y="690" width="2" height="6" fill="#0000FF"/>
<rect x="813" y="690" width="2" height="6" fill="#0000FF"/>
<rect x="149" y="698" width="2" height="6" fill="#0000FF"/>
<rect x="243" y="698" width="2" height="6" fill="#0000FF"/>
<rect x="492" y="698" width="2" height="6" fill="#008000"/>
<rect x="500" y="698" width="2" height="6" fill="#0000FF"/>
<rect x="749" y="698" width="2" height="6" fill="#0000FF"/>
<rect x="755" y="698" width="2" height="6" fill="#0000FF"/>
<rect x="149" y="706" width="2" height="6" fill="#008000"/>
<rect x="500" y="706" width="2" height="6" fill="#0000FF"/>
<rect x="755" y="706" width="2" height="6" fill="#0000FF"/>
<rect x="149" y="714" width="2" height="6" fill="#008000"/>
<rect x="500" y="714" width="2" height="6" fill="#008000"/>
<rect x="755" y="714" width="2" height="6" fill="#0000FF"/>
<rect x="149" y="722" width="2" height="6" fill="#008000"/>
<rect x="500" y="722" width="2" height="6" fill="#800080"/>
<rect x="755" y="722" width="2" height="6" fill="#0000FF"/>
<rect x="149" y="730" width="2" height="6" fill="#800080"/>
<rect x="500" y="730" width="2" height="6" fill="#800080"/>
<rect x="755" y="730" width="2" height="6" fill="#0000FF"/>
<rect x="149" y="738" width="2" height="6" fill="#800080"/>
<rect x="500" y="738" width="2" height="6" fill="#800080"/>
<rect x="149" y="746" width="2" height="6" fill="#008000"/>
<rect x="500" y="746" width="2" height="6" fill="#0000FF"/>
<rect x="149" y="754" width="2" height="6" fill="#800080"/>
<rect x="500" y="754" width="2" height="6" fill="#008000"/>
<rect x="149" y="762" width="2" height="6" fill="#800080"/>
<rect x="500" y="762" width="2" height="6" fill="#0000FF"/>
<rect x="149" y="770" width="2" height="6" fill="#800080"/>
<rect x="500" y="770" width="2" height="6" fill="#008000"/>
<rect x="149" y="778" width="2" height="6" fill="#FF0000"/>
<rect x="149" y="786" width="2" height="6" fill="#008000"/>
<rect x="149" y="794" width="2" height="6" fill="#0000FF"/>
<rect x="149" y="802" width="2" height="6" fill="#FF0000"/>
<rect x="149" y="810" width="2" height="6" fill="#0000FF"/>
<rect x="149" y="818" width="2" height="6" fill="#0000FF"/>
<rect x="149" y="826" width="2" height="6" fill="#0000FF"/>
<rect x="149" y="834" width="2" height="6" fill="#0000FF"/>
<rect x="149" y="842" width="2" height="6" fill="#0000FF"/>
<rect x="149" y="850" width="2" height="6" fill="#0000FF"/>
<rect x="149" y="858" width="2" height="6" fill="#0000FF"/>
<rect x="149" y="866" width="2" height="6" fill="#0000FF"/>
<text x="59.5" y="903.7" class="b" textLength="140" lengthAdjust="spacingAndGlyphs">Disease Genes (OMIM)</text>
<rect x="60" y="906" width="118" height="15" fill="#FDDEDA"/>
<rect x="178" y="906" width="29" height="15" fill="#FEECE9"/>
<rect x="207" y="906" width="10" height="15" fill="#FDDAD5"/>
<rect x="217" y="906" width="12" height="15" fill="#FEE8E6"/>
<rect x="229" y="906" width="3" height="15" fill="#FA6950"/>
<rect x="232" y="906" width="4" height="15" fill="#FA9687"/>
<rect x="236" y="906" width="2" height="15" fill="#FAA596"/>
<rect x="238" y="906" width="204" height="15" fill="#FAAFA2"/>
<rect x="442" y="906" width="1" height="15" fill="#FEF0EE"/>
<rect x="443" y="906" width="7" height="15" fill="#FAA094"/>
<rect x="450" y="906" width="49" height="15" fill="#FAAFA2"/>
<rect x="499" y="906" width="361" height="15" fill="#FDEEEC"/>
</svg>
</body></html>
